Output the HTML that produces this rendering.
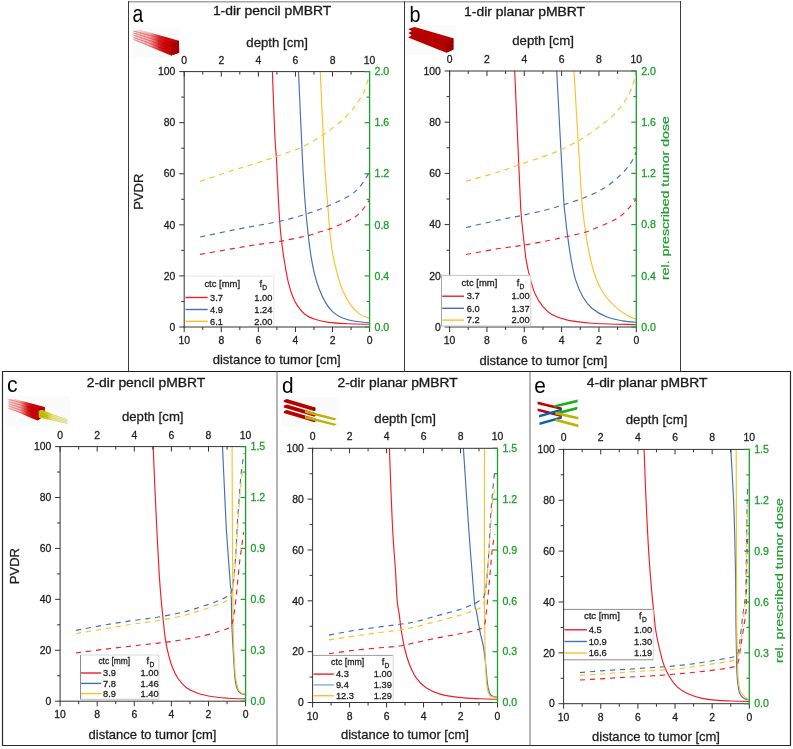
<!DOCTYPE html>
<html><head><meta charset="utf-8"><title>pMBRT</title><style>html,body{margin:0;padding:0;background:#fff;}svg{display:block;will-change:transform;}</style></head><body>
<svg width="793" height="749" viewBox="0 0 793 749" font-family="&quot;Liberation Sans&quot;, sans-serif">
<rect width="793" height="749" fill="#fff"/>
<line x1="128.5" y1="1.7" x2="680.5" y2="1.7" stroke="#a4a4a4" stroke-width="1.4" />
<line x1="128.5" y1="1" x2="128.5" y2="371.5" stroke="#3a3a3a" stroke-width="1" />
<line x1="680.5" y1="1" x2="680.5" y2="371.5" stroke="#3a3a3a" stroke-width="1" />
<line x1="404.5" y1="1.5" x2="404.5" y2="371.5" stroke="#3a3a3a" stroke-width="1" />
<line x1="2.5" y1="371.5" x2="790.5" y2="371.5" stroke="#1e1e1e" stroke-width="1.2" />
<line x1="2.5" y1="371" x2="2.5" y2="745.5" stroke="#2a2a2a" stroke-width="1.2" />
<line x1="790.5" y1="371" x2="790.5" y2="745.5" stroke="#2a2a2a" stroke-width="1.2" />
<line x1="2" y1="745.5" x2="791" y2="745.5" stroke="#2a2a2a" stroke-width="1.2" />
<line x1="277" y1="371.5" x2="277" y2="745.5" stroke="#6a6a6a" stroke-width="1" />
<line x1="530" y1="371.5" x2="530" y2="745.5" stroke="#6a6a6a" stroke-width="1" />
<defs><linearGradient id="ga" x1="133" y1="0" x2="166" y2="0" gradientUnits="userSpaceOnUse"><stop offset="0" stop-color="#d40000" stop-opacity="0.08"/><stop offset="0.5" stop-color="#d40000" stop-opacity="0.3"/><stop offset="0.8" stop-color="#d00000" stop-opacity="0.85"/><stop offset="1" stop-color="#cc0000" stop-opacity="1"/></linearGradient><linearGradient id="gc" x1="8" y1="0" x2="32" y2="0" gradientUnits="userSpaceOnUse"><stop offset="0" stop-color="#d40000" stop-opacity="0.08"/><stop offset="0.5" stop-color="#d40000" stop-opacity="0.3"/><stop offset="0.8" stop-color="#d00000" stop-opacity="0.85"/><stop offset="1" stop-color="#c80000" stop-opacity="1"/></linearGradient><linearGradient id="gcy" x1="38" y1="0" x2="68" y2="0" gradientUnits="userSpaceOnUse"><stop offset="0" stop-color="#c8c400" stop-opacity="1"/><stop offset="0.3" stop-color="#c8c400" stop-opacity="0.9"/><stop offset="0.5" stop-color="#c8c400" stop-opacity="0.3"/><stop offset="1" stop-color="#c8c400" stop-opacity="0.08"/></linearGradient></defs>
<rect x="132" y="28" width="49" height="29" fill="#fbfbfb"/>
<rect x="406" y="25" width="50" height="30" fill="#fbfbfb"/>
<rect x="6" y="396" width="64" height="30" fill="#fbfbfb"/>
<rect x="282" y="397" width="57" height="30" fill="#fbfbfb"/>
<rect x="535" y="398" width="46" height="30" fill="#fbfbfb"/>
<polygon points="133.2,31.3 139.2,29.4 178.9,40.8 179.2,52.8 171,55.6 133.2,39.8" fill="url(#ga)" />
<line x1="133.5" y1="31" x2="172" y2="41.2" stroke="#d81818" stroke-width="0.6" opacity="0.75"/>
<line x1="133.5" y1="33.1" x2="172" y2="44.7" stroke="#d81818" stroke-width="0.6" opacity="0.75"/>
<line x1="133.5" y1="35.2" x2="172" y2="48.2" stroke="#d81818" stroke-width="0.6" opacity="0.75"/>
<line x1="133.5" y1="37.3" x2="172" y2="51.7" stroke="#d81818" stroke-width="0.6" opacity="0.75"/>
<line x1="133.5" y1="39.4" x2="172" y2="55.2" stroke="#d81818" stroke-width="0.6" opacity="0.75"/>
<line x1="136" y1="31.28" x2="137.5" y2="40.76" stroke="#e03030" stroke-width="0.4" opacity="0.35"/>
<line x1="140.2" y1="32.37" x2="141.7" y2="42.52" stroke="#e03030" stroke-width="0.4" opacity="0.35"/>
<line x1="144.4" y1="33.46" x2="145.9" y2="44.29" stroke="#e03030" stroke-width="0.4" opacity="0.35"/>
<line x1="148.6" y1="34.56" x2="150.1" y2="46.05" stroke="#e03030" stroke-width="0.4" opacity="0.35"/>
<line x1="152.8" y1="35.65" x2="154.3" y2="47.82" stroke="#e03030" stroke-width="0.4" opacity="0.35"/>
<line x1="157" y1="36.74" x2="158.5" y2="49.58" stroke="#e03030" stroke-width="0.4" opacity="0.35"/>
<polygon points="171,42.6 178.9,40.8 179.2,52.8 171,55.6" fill="#a80000" />
<line x1="158" y1="40.7" x2="171" y2="45.85" stroke="#a00000" stroke-width="0.7" opacity="0.6"/>
<line x1="158" y1="43.6" x2="171" y2="49.1" stroke="#a00000" stroke-width="0.7" opacity="0.6"/>
<line x1="158" y1="46.5" x2="171" y2="52.35" stroke="#a00000" stroke-width="0.7" opacity="0.6"/>
<polygon points="408.2,29.1 414.6,27.1 453.4,38.2 453.4,49.5 446.4,52.7 408.2,37.4 411.8,35.1 408.2,33.1 411.8,31.2" fill="#b80000" />
<polygon points="446.4,40.4 453.4,38.2 453.4,49.5 446.4,52.7" fill="#9c0000" />
<line x1="446.4" y1="44.5" x2="453.4" y2="41.97" stroke="#7a0000" stroke-width="0.7" opacity="0.7"/>
<line x1="446.4" y1="48.6" x2="453.4" y2="45.74" stroke="#7a0000" stroke-width="0.7" opacity="0.7"/>
<line x1="411" y1="32.1" x2="446.4" y2="44.5" stroke="#9a0000" stroke-width="0.8" opacity="0.6"/>
<line x1="411" y1="34.7" x2="446.4" y2="48.6" stroke="#9a0000" stroke-width="0.8" opacity="0.6"/>
<polygon points="8.3,399.6 12,398.3 44.6,406.9 44.6,415.5 37.4,420.4 8.3,408.6" fill="url(#gc)" />
<line x1="8.5" y1="399.5" x2="40" y2="407.5" stroke="#d81818" stroke-width="0.55" opacity="0.75"/>
<line x1="8.5" y1="401.7" x2="40" y2="410.5" stroke="#d81818" stroke-width="0.55" opacity="0.75"/>
<line x1="8.5" y1="403.9" x2="40" y2="413.5" stroke="#d81818" stroke-width="0.55" opacity="0.75"/>
<line x1="8.5" y1="406.1" x2="40" y2="416.5" stroke="#d81818" stroke-width="0.55" opacity="0.75"/>
<line x1="8.5" y1="408.3" x2="40" y2="419.5" stroke="#d81818" stroke-width="0.55" opacity="0.75"/>
<polygon points="37.5,408.8 44.6,406.9 44.6,415.5 37.4,420.4" fill="#a80000" />
<line x1="27" y1="406.5" x2="37.5" y2="410.5" stroke="#9a0000" stroke-width="0.8" opacity="0.6"/>
<line x1="27" y1="409.8" x2="37.5" y2="414.4" stroke="#9a0000" stroke-width="0.8" opacity="0.6"/>
<polygon points="38.7,410.7 42,409.8 67.6,419.8 67,423.8 38.7,417.4" fill="url(#gcy)" />
<line x1="40" y1="410.6" x2="67.5" y2="419.5" stroke="#c9c21c" stroke-width="0.55" opacity="0.85"/>
<line x1="40" y1="412.7" x2="67.5" y2="420.9" stroke="#c9c21c" stroke-width="0.55" opacity="0.85"/>
<line x1="40" y1="414.8" x2="67.5" y2="422.3" stroke="#c9c21c" stroke-width="0.55" opacity="0.85"/>
<line x1="40" y1="416.9" x2="67.5" y2="423.7" stroke="#c9c21c" stroke-width="0.55" opacity="0.85"/>
<line x1="39" y1="413" x2="48" y2="415.7" stroke="#a8a200" stroke-width="0.7" opacity="0.7"/>
<line x1="39" y1="415.2" x2="48" y2="417.6" stroke="#a8a200" stroke-width="0.7" opacity="0.7"/>
<polygon points="283.8,400.3 286.8,399.1 315.3,407.6 315.3,410.5 313.8,411 283.8,402" fill="#b80000" />
<polygon points="313.6,408.1 315.3,407.6 315.3,410.5 313.8,411" fill="#900000" />
<polygon points="283.8,405.8 286.8,404.6 315.3,413.1 315.3,416 313.8,416.5 283.8,407.5" fill="#b80000" />
<polygon points="313.6,413.6 315.3,413.1 315.3,416 313.8,416.5" fill="#900000" />
<polygon points="283.8,411.3 286.8,410.1 315.3,418.6 315.3,421.5 313.8,422 283.8,413" fill="#b80000" />
<polygon points="313.6,419.1 315.3,418.6 315.3,421.5 313.8,422" fill="#900000" />
<polygon points="305,410.2 336.5,418.4 334.7,420.2 305,412.9" fill="#bbb300" />
<polygon points="305,415.7 336.5,423.9 334.7,425.7 305,418.4" fill="#bbb300" />
<polygon points="537.6,401.6 561.8,407.4 561.8,410 537.6,404.2" fill="#c00000" />
<polygon points="537.6,408.4 561.8,414.6 561.8,417.2 537.6,411" fill="#c00000" />
<polygon points="539.1,415 561.8,408.4 561.8,411 539.1,417.6" fill="#0f5ea8" />
<polygon points="539.5,422.4 561.8,416.2 561.8,418.8 539.5,425" fill="#0f5ea8" />
<polygon points="554.2,405.2 577.6,399.6 577.6,402.2 554.2,407.8" fill="#1aae1a" />
<polygon points="555,412.6 577.3,406.8 577.3,409.4 555,415.2" fill="#1aae1a" />
<polygon points="555.8,411.8 578.3,417 578.3,419.6 555.8,414.4" fill="#bdb400" />
<polygon points="555.8,418.6 578.3,424.6 578.3,427.2 555.8,421.2" fill="#bdb400" />
<text x="212.9" y="15.2" font-size="12" fill="#1a1a1a" textLength="118.4" lengthAdjust="spacingAndGlyphs" stroke="#1a1a1a" stroke-width="0.3">1-dir pencil pMBRT</text>
<text x="464.1" y="15.5" font-size="12" fill="#1a1a1a" textLength="121" lengthAdjust="spacingAndGlyphs" stroke="#1a1a1a" stroke-width="0.3">1-dir planar pMBRT</text>
<text x="86.8" y="386.5" font-size="12" fill="#1a1a1a" textLength="118.4" lengthAdjust="spacingAndGlyphs" stroke="#1a1a1a" stroke-width="0.3">2-dir pencil pMBRT</text>
<text x="337.6" y="386.5" font-size="12" fill="#1a1a1a" textLength="120" lengthAdjust="spacingAndGlyphs" stroke="#1a1a1a" stroke-width="0.3">2-dir planar pMBRT</text>
<text x="586.8" y="386.5" font-size="12" fill="#1a1a1a" textLength="120.8" lengthAdjust="spacingAndGlyphs" stroke="#1a1a1a" stroke-width="0.3">4-dir planar pMBRT</text>
<text x="132.5" y="22.2" font-size="23.5" fill="#000" textLength="10.7" lengthAdjust="spacingAndGlyphs" stroke="none">a</text>
<text x="409.4" y="22.3" font-size="22" fill="#000" textLength="11" lengthAdjust="spacingAndGlyphs" stroke="none">b</text>
<text x="6.9" y="392.4" font-size="22" fill="#000" textLength="10.6" lengthAdjust="spacingAndGlyphs" stroke="none">c</text>
<text x="281.9" y="392.5" font-size="22" fill="#000" textLength="11.6" lengthAdjust="spacingAndGlyphs" stroke="none">d</text>
<text x="534.3" y="392.5" font-size="22" fill="#000" textLength="11.6" lengthAdjust="spacingAndGlyphs" stroke="none">e</text>
<path d="M272.4 71.6 C272.8 82.17 274.12 120.27 274.8 135 C275.48 149.73 275.9 149.17 276.5 160 C277.1 170.83 277.73 188.15 278.4 200 C279.07 211.85 279.67 221.97 280.5 231.1 C281.33 240.23 282.5 248.3 283.4 254.8 C284.3 261.3 285.07 265.45 285.9 270.1 C286.73 274.75 287.35 278.5 288.4 282.7 C289.45 286.9 290.73 291.52 292.2 295.3 C293.67 299.08 295.1 302.25 297.2 305.4 C299.3 308.55 301.85 311.88 304.8 314.2 C307.75 316.52 310.92 317.93 314.9 319.3 C318.88 320.67 323.23 321.67 328.7 322.4 C334.17 323.13 340.88 323.38 347.7 323.7 C354.52 324.02 365.95 324.2 369.6 324.3" fill="none" stroke="#ee1f26" stroke-width="1.15" stroke-linejoin="round"/>
<path d="M298.5 71.6 C299.17 86.33 301.43 138.6 302.5 160 C303.57 181.4 304.02 188.15 304.9 200 C305.78 211.85 306.82 221.97 307.8 231.1 C308.78 240.23 309.73 247.88 310.8 254.8 C311.87 261.72 312.88 267.12 314.2 272.6 C315.52 278.08 316.9 282.87 318.7 287.7 C320.5 292.53 322.7 297.6 325 301.6 C327.3 305.6 329.57 308.97 332.5 311.7 C335.43 314.43 338.82 316.42 342.6 318 C346.38 319.58 350.7 320.42 355.2 321.2 C359.7 321.98 367.2 322.45 369.6 322.7" fill="none" stroke="#4470b0" stroke-width="1.15" stroke-linejoin="round"/>
<path d="M320.3 71.6 C320.98 86.33 323.22 138.6 324.4 160 C325.58 181.4 326.5 188.15 327.4 200 C328.3 211.85 328.88 221.97 329.8 231.1 C330.72 240.23 331.6 247.47 332.9 254.8 C334.2 262.13 335.98 269.18 337.6 275.1 C339.22 281.02 340.5 285.47 342.6 290.3 C344.7 295.13 347.47 300.22 350.2 304.1 C352.93 307.98 355.77 311.18 359 313.6 C362.23 316.02 367.83 317.77 369.6 318.6" fill="none" stroke="#f9c12a" stroke-width="1.15" stroke-linejoin="round"/>
<path d="M200.1 254.4 C205.32 253.48 222.23 250.48 231.4 248.9 C240.57 247.32 246.8 246.2 255.1 244.9 C263.4 243.6 272.3 242.68 281.2 241.1 C290.1 239.52 302.5 236.82 308.5 235.4 C314.5 233.98 313.62 233.7 317.2 232.6 C320.78 231.5 325.2 230.58 330 228.8 C334.8 227.02 341.73 223.93 346 221.9 C350.27 219.87 352.75 218.73 355.6 216.6 C358.45 214.47 360.87 211.77 363.1 209.1 C365.33 206.43 368.02 202.02 369 200.6" fill="none" stroke="#ee1f26" stroke-width="1.15" stroke-linejoin="round" stroke-dasharray="5.2 4.8"/>
<path d="M200.1 237 C205.32 235.9 222.23 232.25 231.4 230.4 C240.57 228.55 247 227.43 255.1 225.9 C263.2 224.37 271.5 223.17 280 221.2 C288.5 219.23 298.2 216.6 306.1 214.1 C314 211.6 320.48 209.1 327.4 206.2 C334.32 203.3 342.27 199.85 347.6 196.7 C352.93 193.55 355.9 191.15 359.4 187.3 C362.9 183.45 367.07 175.88 368.6 173.6" fill="none" stroke="#4470b0" stroke-width="1.15" stroke-linejoin="round" stroke-dasharray="5.2 4.8"/>
<path d="M200.1 181.4 C205.32 179.63 222.23 173.77 231.4 170.8 C240.57 167.83 247.58 165.98 255.1 163.6 C262.62 161.22 268.98 159.13 276.5 156.5 C284.02 153.87 293.95 150.45 300.2 147.8 C306.45 145.15 310.28 142.7 314 140.6 C317.72 138.5 319.83 136.98 322.5 135.2 C325.17 133.42 327.33 131.85 330 129.9 C332.67 127.95 335.83 125.72 338.5 123.5 C341.17 121.28 343.68 118.92 346 116.6 C348.32 114.28 350.43 112 352.4 109.6 C354.37 107.2 356.02 104.87 357.8 102.2 C359.58 99.53 361.6 96.63 363.1 93.6 C364.6 90.57 365.73 87.33 366.8 84 C367.87 80.67 369.05 75.33 369.5 73.6" fill="none" stroke="#f9c12a" stroke-width="1.15" stroke-linejoin="round" stroke-dasharray="5.2 4.8"/>
<path d="M514.7 71 C515.57 90.83 518.83 166.22 519.9 190 C520.97 213.78 520.5 205.8 521.1 213.7 C521.7 221.6 522.63 229.5 523.5 237.4 C524.37 245.3 525.12 253.98 526.3 261.1 C527.48 268.22 529.1 274.57 530.6 280.1 C532.1 285.63 533.32 289.95 535.3 294.3 C537.28 298.65 539.73 302.83 542.5 306.2 C545.27 309.57 547.57 312.13 551.9 314.5 C556.23 316.87 561.78 318.95 568.5 320.4 C575.22 321.85 580.9 322.48 592.2 323.2 C603.5 323.92 628.95 324.45 636.3 324.7" fill="none" stroke="#ee1f26" stroke-width="1.15" stroke-linejoin="round"/>
<path d="M556.7 71 C557.77 90.83 561.72 166.22 563.1 190 C564.48 213.78 564.22 205.8 565 213.7 C565.78 221.6 566.73 229.5 567.8 237.4 C568.87 245.3 570.08 253.98 571.4 261.1 C572.72 268.22 573.8 274.17 575.7 280.1 C577.6 286.03 580.05 291.97 582.8 296.7 C585.55 301.43 588.25 305.15 592.2 308.5 C596.15 311.85 601.35 314.73 606.5 316.8 C611.65 318.87 618.13 319.98 623.1 320.9 C628.07 321.82 634.1 322.07 636.3 322.3" fill="none" stroke="#4470b0" stroke-width="1.15" stroke-linejoin="round"/>
<path d="M574 71 C575.18 90.83 579.57 166.22 581.1 190 C582.63 213.78 582.45 206.58 583.2 213.7 C583.95 220.82 584.48 225.58 585.6 232.7 C586.72 239.82 588.2 248.9 589.9 256.4 C591.6 263.9 593.43 271.38 595.8 277.7 C598.17 284.02 600.73 289.35 604.1 294.3 C607.47 299.25 612.05 303.83 616 307.4 C619.95 310.97 624.42 313.73 627.8 315.7 C631.18 317.67 634.88 318.62 636.3 319.2" fill="none" stroke="#f9c12a" stroke-width="1.15" stroke-linejoin="round"/>
<path d="M466.1 254.5 C471.32 253.55 487.63 250.38 497.4 248.8 C507.17 247.22 516 246.42 524.7 245 C533.4 243.58 542.3 241.77 549.6 240.3 C556.9 238.83 562.58 237.55 568.5 236.2 C574.42 234.85 579.57 233.97 585.1 232.2 C590.63 230.43 595.77 228.28 601.7 225.6 C607.63 222.92 614.97 220.45 620.7 216.1 C626.43 211.75 633.53 202.27 636.1 199.5" fill="none" stroke="#ee1f26" stroke-width="1.15" stroke-linejoin="round" stroke-dasharray="5.2 4.8"/>
<path d="M466.1 227.5 C471.32 226.3 488.23 222.28 497.4 220.3 C506.57 218.32 513.2 217.28 521.1 215.6 C529 213.92 537.68 212.02 544.8 210.2 C551.92 208.38 557.47 206.68 563.8 204.7 C570.13 202.72 576.48 200.83 582.8 198.3 C589.12 195.77 595.78 193.03 601.7 189.5 C607.62 185.97 613.55 181.35 618.3 177.1 C623.05 172.85 627.23 168.15 630.2 164 C633.17 159.85 635.12 154.17 636.1 152.2" fill="none" stroke="#4470b0" stroke-width="1.15" stroke-linejoin="round" stroke-dasharray="5.2 4.8"/>
<path d="M466.1 181.3 C471.32 179.8 488.82 174.98 497.4 172.3 C505.98 169.62 510.08 167.77 517.6 165.2 C525.12 162.63 535.2 159.52 542.5 156.9 C549.8 154.28 555.15 152.32 561.4 149.5 C567.65 146.68 575.12 142.73 580 140 C584.88 137.27 586.78 135.85 590.7 133.1 C594.62 130.35 599.95 126.25 603.5 123.5 C607.05 120.75 609.52 118.92 612 116.6 C614.48 114.28 616.27 112.18 618.4 109.6 C620.53 107.02 622.83 104.12 624.8 101.1 C626.77 98.08 628.77 94.53 630.2 91.5 C631.63 88.47 632.45 86.07 633.4 82.9 C634.35 79.73 635.48 74.23 635.9 72.5" fill="none" stroke="#f9c12a" stroke-width="1.15" stroke-linejoin="round" stroke-dasharray="5.2 4.8"/>
<path d="M153.2 446.6 C153.45 452.85 154.1 470.5 154.7 484.1 C155.3 497.7 156.07 513.48 156.8 528.2 C157.53 542.92 158.37 560.43 159.1 572.4 C159.83 584.37 160.5 591.9 161.2 600 C161.9 608.1 162.6 614.45 163.3 621 C164 627.55 164.58 633.92 165.4 639.3 C166.22 644.68 167.03 648.63 168.2 653.3 C169.37 657.97 170.77 663.1 172.4 667.3 C174.03 671.5 175.65 675.1 178 678.5 C180.35 681.9 183.22 685.23 186.5 687.7 C189.78 690.17 193.27 691.78 197.7 693.3 C202.13 694.82 207.97 695.98 213.1 696.8 C218.23 697.62 223.08 697.85 228.5 698.2 C233.92 698.55 242.75 698.78 245.6 698.9" fill="none" stroke="#ee1f26" stroke-width="1.15" stroke-linejoin="round"/>
<path d="M222.5 446.6 C222.82 453.52 223.8 475.03 224.4 488.1 C225 501.17 225.47 513.83 226.1 525 C226.73 536.17 227.48 545.07 228.2 555.1 C228.92 565.13 229.9 579.28 230.4 585.2 C230.9 591.12 231 585.63 231.2 590.6 C231.4 595.57 231.47 608.77 231.6 615 C231.73 621.23 231.68 621.15 232 628 C232.32 634.85 233.02 647.92 233.5 656.1 C233.98 664.28 234.32 671.72 234.9 677.1 C235.48 682.48 236.07 685.7 237 688.4 C237.93 691.1 239.07 692.33 240.5 693.3 C241.93 694.27 244.75 694.05 245.6 694.2" fill="none" stroke="#4470b0" stroke-width="1.15" stroke-linejoin="round"/>
<path d="M232.1 446.6 C232.15 459.67 232.25 496.93 232.4 525 C232.55 553.07 232.82 595.5 233 615 C233.18 634.5 233.18 632.82 233.5 642 C233.82 651.18 234.43 663.55 234.9 670.1 C235.37 676.65 235.72 678.02 236.3 681.3 C236.88 684.58 237.47 687.8 238.4 689.8 C239.33 691.8 240.7 692.65 241.9 693.3 C243.1 693.95 244.98 693.63 245.6 693.7" fill="none" stroke="#f9c12a" stroke-width="1.15" stroke-linejoin="round"/>
<path d="M76.1 652.9 C81.32 652.23 97.05 650.17 107.4 648.9 C117.75 647.63 128.3 646.43 138.2 645.3 C148.1 644.17 158.98 643.1 166.8 642.1 C174.62 641.1 179.02 640.35 185.1 639.3 C191.18 638.25 197.47 637.17 203.3 635.8 C209.13 634.43 215.9 632.4 220.1 631.1 C224.3 629.8 226.52 629.22 228.5 628 C230.48 626.78 231.08 626.13 232 623.8 C232.92 621.47 233.5 616.8 234 614 C234.5 611.2 234.6 610.2 235 607 C235.4 603.8 235.92 599.43 236.4 594.8 C236.88 590.17 237.35 584.82 237.9 579.2 C238.45 573.58 239.07 566.52 239.7 561.1 C240.33 555.68 241.05 551.52 241.7 546.7 C242.35 541.88 243.28 534.62 243.6 532.2" fill="none" stroke="#ee1f26" stroke-width="1.15" stroke-linejoin="round" stroke-dasharray="5.2 4.8"/>
<path d="M76.1 630.4 C81.32 629.42 97.83 626.15 107.4 624.5 C116.97 622.85 125.47 621.67 133.5 620.5 C141.53 619.33 148.18 618.7 155.6 617.5 C163.02 616.3 171.22 614.82 178 613.3 C184.78 611.78 190.13 610.28 196.3 608.4 C202.47 606.52 210.08 603.87 215 602 C219.92 600.13 223.1 598.8 225.8 597.2 C228.5 595.6 229.95 594.8 231.2 592.4 C232.45 590 232.73 586.42 233.3 582.8 C233.87 579.18 234.13 576.32 234.6 570.7 C235.07 565.08 235.65 556.85 236.1 549.1 C236.55 541.35 236.9 531.15 237.3 524.2 C237.7 517.25 238.1 513.02 238.5 507.4 C238.9 501.78 239.3 495.72 239.7 490.5 C240.1 485.28 240.45 480.5 240.9 476.1 C241.35 471.7 241.9 467.92 242.4 464.1 C242.9 460.28 243.65 455.02 243.9 453.2" fill="none" stroke="#4470b0" stroke-width="1.15" stroke-linejoin="round" stroke-dasharray="5.2 4.8"/>
<path d="M76.1 633.5 C81.32 632.63 97.83 629.88 107.4 628.3 C116.97 626.72 125.47 625.22 133.5 624 C141.53 622.78 148.18 622.2 155.6 621 C163.02 619.8 171.22 618.32 178 616.8 C184.78 615.28 190.13 613.77 196.3 611.9 C202.47 610.03 210.28 607.25 215 605.6 C219.72 603.95 222 603.4 224.6 602 C227.2 600.6 229.23 599.4 230.6 597.2 C231.97 595 232.18 592.42 232.8 588.8 C233.42 585.18 233.82 580.52 234.3 575.5 C234.78 570.48 235.23 565.12 235.7 558.7 C236.17 552.28 236.77 542.35 237.1 537 C237.43 531.65 237.42 531.13 237.7 526.6 C237.98 522.07 238.42 515.4 238.8 509.8 C239.18 504.2 239.55 498.22 240 493 C240.45 487.78 241 482.92 241.5 478.5 C242 474.08 242.75 468.5 243 466.5" fill="none" stroke="#f9c12a" stroke-width="1.15" stroke-linejoin="round" stroke-dasharray="5.2 4.8"/>
<path d="M389.4 448.3 C389.9 461.08 391.37 504.32 392.4 525 C393.43 545.68 394.82 559.9 395.6 572.4 C396.38 584.9 396.5 593.03 397.1 600 C397.7 606.97 398.48 609.02 399.2 614.2 C399.92 619.38 400.45 625.22 401.4 631.1 C402.35 636.98 403.6 644.07 404.9 649.5 C406.2 654.93 407.32 658.98 409.2 663.7 C411.08 668.42 413.38 673.8 416.2 677.8 C419.02 681.8 422.08 684.98 426.1 687.7 C430.12 690.42 434.87 692.48 440.3 694.1 C445.73 695.72 452.1 696.62 458.7 697.4 C465.3 698.18 473.43 698.48 479.9 698.8 C486.37 699.12 494.57 699.22 497.5 699.3" fill="none" stroke="#ee1f26" stroke-width="1.15" stroke-linejoin="round"/>
<path d="M463.4 448.3 C464.32 462.03 467.08 505.42 468.9 530.7 C470.72 555.98 473.05 586.57 474.3 600 C475.55 613.43 475.47 606.12 476.4 611.3 C477.33 616.48 478.73 625.2 479.9 631.1 C481.07 637 482.45 641.27 483.4 646.7 C484.35 652.13 485 658.28 485.6 663.7 C486.2 669.12 486.53 674.97 487 679.2 C487.47 683.43 487.7 686.38 488.4 689.1 C489.1 691.82 489.68 694.12 491.2 695.5 C492.72 696.88 496.45 697.08 497.5 697.4" fill="none" stroke="#4470b0" stroke-width="1.15" stroke-linejoin="round"/>
<path d="M484.5 448.3 C484.48 473.58 484.37 570 484.4 600 C484.43 630 484.55 618.87 484.7 628.3 C484.85 637.73 485.03 648.12 485.3 656.6 C485.57 665.08 485.9 673.53 486.3 679.2 C486.7 684.87 487 687.77 487.7 690.6 C488.4 693.43 488.87 695.07 490.5 696.2 C492.13 697.33 496.33 697.2 497.5 697.4" fill="none" stroke="#f9c12a" stroke-width="1.15" stroke-linejoin="round"/>
<path d="M329 653.8 C333.25 653.2 346.02 651.2 354.5 650.2 C362.98 649.2 372.37 648.5 379.9 647.8 C387.43 647.1 393.65 646.88 399.7 646 C405.75 645.12 409.9 643.85 416.2 642.5 C422.5 641.15 430.42 639.32 437.5 637.9 C444.58 636.48 452.1 635.32 458.7 634 C465.3 632.68 472.87 631.38 477.1 630 C481.33 628.62 482.58 628.45 484.1 625.7 C485.62 622.95 485.65 617.45 486.2 613.5 C486.75 609.55 487 605.92 487.4 602 C487.8 598.08 488.15 594.83 488.6 590 C489.05 585.17 489.45 580.12 490.1 573 C490.75 565.88 491.7 553.73 492.5 547.3 C493.3 540.87 494.5 536.55 494.9 534.4" fill="none" stroke="#ee1f26" stroke-width="1.15" stroke-linejoin="round" stroke-dasharray="5.2 4.8"/>
<path d="M329 635.1 C333.25 634.32 346.02 631.77 354.5 630.4 C362.98 629.03 372.37 627.92 379.9 626.9 C387.43 625.88 393.65 625.18 399.7 624.3 C405.75 623.42 409.9 623.05 416.2 621.6 C422.5 620.15 430.42 617.55 437.5 615.6 C444.58 613.65 452.7 611.8 458.7 609.9 C464.7 608 470.12 605.68 473.5 604.2 C476.88 602.72 477.45 601.92 479 601 C480.55 600.08 481.68 600.7 482.8 598.7 C483.92 596.7 484.88 594.08 485.7 589 C486.52 583.92 487.1 575.7 487.7 568.2 C488.3 560.7 488.87 551.7 489.3 544 C489.73 536.3 489.97 528.22 490.3 522 C490.63 515.78 490.9 511.92 491.3 506.7 C491.7 501.48 492.1 496.98 492.7 490.7 C493.3 484.42 494.53 472.62 494.9 469" fill="none" stroke="#4470b0" stroke-width="1.15" stroke-linejoin="round" stroke-dasharray="5.2 4.8"/>
<path d="M329 639.9 C333.25 639.27 346.02 637.33 354.5 636.1 C362.98 634.87 372.37 633.52 379.9 632.5 C387.43 631.48 393.65 630.97 399.7 630 C405.75 629.03 409.9 628.17 416.2 626.7 C422.5 625.23 430.42 623.05 437.5 621.2 C444.58 619.35 452.33 617.48 458.7 615.6 C465.07 613.72 471.68 611.65 475.7 609.9 C479.72 608.15 481.22 607.52 482.8 605.1 C484.38 602.68 484.52 600.22 485.2 595.4 C485.88 590.58 486.28 583.42 486.9 576.2 C487.52 568.98 488.27 560.4 488.9 552.1 C489.53 543.8 490.07 534.87 490.7 526.4 C491.33 517.93 491.93 508.03 492.7 501.3 C493.47 494.57 494.87 488.55 495.3 486" fill="none" stroke="#f9c12a" stroke-width="1.15" stroke-linejoin="round" stroke-dasharray="5.2 4.8"/>
<path d="M644.1 449.4 C644.4 457.33 645.17 480.42 645.9 497 C646.63 513.58 647.58 533.75 648.5 548.9 C649.42 564.05 650.53 577.52 651.4 587.9 C652.27 598.28 652.98 604.18 653.7 611.2 C654.42 618.22 654.8 624.03 655.7 630 C656.6 635.97 657.78 641.32 659.1 647 C660.42 652.68 661.9 659.18 663.6 664.1 C665.3 669.02 667.03 672.72 669.3 676.5 C671.57 680.28 674.17 683.95 677.2 686.8 C680.23 689.65 683.52 691.72 687.5 693.6 C691.48 695.48 696 696.97 701.1 698.1 C706.2 699.23 713.08 699.92 718.1 700.4 C723.12 700.88 726 700.82 731.2 701 C736.4 701.18 746.28 701.42 749.3 701.5" fill="none" stroke="#ee1f26" stroke-width="1.15" stroke-linejoin="round"/>
<path d="M730.8 449.4 C731.1 454.68 732.1 471.8 732.6 481.1 C733.1 490.4 733.45 496.22 733.8 505.2 C734.15 514.18 734.4 522.85 734.7 535 C735 547.15 735.4 563.93 735.6 578.1 C735.8 592.27 735.77 608.27 735.9 620 C736.03 631.73 736.22 639.48 736.4 648.5 C736.58 657.52 736.68 667.7 737 674.1 C737.32 680.5 737.77 683.48 738.3 686.9 C738.83 690.32 739.23 692.67 740.2 694.6 C741.17 696.53 742.58 697.63 744.1 698.5 C745.62 699.37 748.43 699.58 749.3 699.8" fill="none" stroke="#4470b0" stroke-width="1.15" stroke-linejoin="round"/>
<path d="M736.2 449.4 C736.25 470.33 736.43 548.23 736.5 575 C736.57 601.77 736.47 596.68 736.6 610 C736.73 623.32 737.02 643.15 737.3 654.9 C737.58 666.65 737.82 674.52 738.3 680.5 C738.78 686.48 739.45 688.45 740.2 690.8 C740.95 693.15 741.95 693.53 742.8 694.6 C743.65 695.67 744.22 696.2 745.3 697.2 C746.38 698.2 748.63 700.03 749.3 700.6" fill="none" stroke="#f9c12a" stroke-width="1.15" stroke-linejoin="round"/>
<path d="M580 680 C584.02 679.77 596.3 679.07 604.1 678.6 C611.9 678.13 619.15 677.63 626.8 677.2 C634.45 676.77 642.35 676.48 650 676 C657.65 675.52 665.13 674.93 672.7 674.3 C680.27 673.67 687.83 673 695.4 672.2 C702.97 671.4 712.13 670.3 718.1 669.5 C724.07 668.7 727.95 668.35 731.2 667.4 C734.45 666.45 736 667.38 737.6 663.8 C739.2 660.22 739.83 651.67 740.8 645.9 C741.77 640.13 742.53 634.97 743.4 629.2 C744.27 623.43 745.48 617.83 746 611.3 C746.52 604.77 746.37 597.55 746.5 590 C746.63 582.45 746.68 573.5 746.8 566 C746.92 558.5 746.95 550.43 747.2 545 C747.45 539.57 748.12 535.33 748.3 533.4" fill="none" stroke="#ee1f26" stroke-width="1.15" stroke-linejoin="round" stroke-dasharray="5.2 4.8"/>
<path d="M580 672.6 C584.02 672.27 596.3 671.15 604.1 670.6 C611.9 670.05 619.15 669.78 626.8 669.3 C634.45 668.82 642.35 668.23 650 667.7 C657.65 667.17 665.13 666.8 672.7 666.1 C680.27 665.4 687.83 664.57 695.4 663.5 C702.97 662.43 711.92 660.75 718.1 659.7 C724.28 658.65 729.25 658.12 732.5 657.2 C735.75 656.28 736.42 656.52 737.6 654.2 C738.78 651.88 738.95 647.88 739.6 643.3 C740.25 638.72 740.9 631.92 741.5 626.7 C742.1 621.48 742.62 616.45 743.2 612 C743.78 607.55 744.57 603.63 745 600 C745.43 596.37 745.6 595.85 745.8 590.2 C746 584.55 746.05 575.33 746.2 566.1 C746.35 556.87 746.55 544.95 746.7 534.8 C746.85 524.65 746.98 512.15 747.1 505.2 C747.22 498.25 747.22 496.63 747.4 493.1 C747.58 489.57 748.07 485.52 748.2 484" fill="none" stroke="#4470b0" stroke-width="1.15" stroke-linejoin="round" stroke-dasharray="5.2 4.8"/>
<path d="M580 675.4 C584.02 675.12 596.3 674.25 604.1 673.7 C611.9 673.15 619.15 672.62 626.8 672.1 C634.45 671.58 642.35 671.08 650 670.6 C657.65 670.12 665.13 669.88 672.7 669.2 C680.27 668.52 687.83 667.52 695.4 666.5 C702.97 665.48 711.92 664.08 718.1 663.1 C724.28 662.12 729.25 661.65 732.5 660.6 C735.75 659.55 736.32 659.47 737.6 656.8 C738.88 654.13 739.45 649.2 740.2 644.6 C740.95 640 741.45 634.33 742.1 629.2 C742.75 624.07 743.53 618.67 744.1 613.8 C744.67 608.93 745.18 603.97 745.5 600 C745.82 596.03 745.85 595.67 746 590 C746.15 584.33 746.27 575.17 746.4 566 C746.53 556.83 746.65 542.73 746.8 535 C746.95 527.27 747.13 524.6 747.3 519.6 C747.47 514.6 747.72 507.43 747.8 505" fill="none" stroke="#f9c12a" stroke-width="1.15" stroke-linejoin="round" stroke-dasharray="5.2 4.8"/>
<rect x="184.2" y="276.2" width="89.6" height="50.8" fill="#fff"/>
<line x1="184.2" y1="276.2" x2="273.8" y2="276.2" stroke="#e6e6e6" stroke-width="1" />
<line x1="273.8" y1="276.2" x2="273.8" y2="327" stroke="#e6e6e6" stroke-width="1" />
<text x="204.4" y="287" font-size="9.3" fill="#1c1c1c" textLength="35.7" lengthAdjust="spacingAndGlyphs"  stroke="#1c1c1c" stroke-width="0.28">ctc [mm]</text>
<text x="259.4" y="287" font-size="9.3" text-anchor="start" fill="#1c1c1c"  stroke="#1c1c1c" stroke-width="0.28">f</text>
<text x="262.3" y="289.8" font-size="6.7" text-anchor="start" fill="#1c1c1c"  stroke="#1c1c1c" stroke-width="0.28">D</text>
<line x1="185.5" y1="297.5" x2="207.7" y2="297.5" stroke="#ee1f26" stroke-width="1.4" />
<text x="210" y="300.7" font-size="9.3" text-anchor="start" fill="#1c1c1c"  stroke="#1c1c1c" stroke-width="0.28">3.7</text>
<text x="272.4" y="300.7" font-size="9.3" text-anchor="end" fill="#1c1c1c"  stroke="#1c1c1c" stroke-width="0.28">1.00</text>
<line x1="185.5" y1="309.5" x2="207.7" y2="309.5" stroke="#4470b0" stroke-width="1.4" />
<text x="210" y="312.7" font-size="9.3" text-anchor="start" fill="#1c1c1c"  stroke="#1c1c1c" stroke-width="0.28">4.9</text>
<text x="272.4" y="312.7" font-size="9.3" text-anchor="end" fill="#1c1c1c"  stroke="#1c1c1c" stroke-width="0.28">1.24</text>
<line x1="185.5" y1="321.3" x2="207.7" y2="321.3" stroke="#f9c12a" stroke-width="1.4" />
<text x="210" y="324.5" font-size="9.3" text-anchor="start" fill="#1c1c1c"  stroke="#1c1c1c" stroke-width="0.28">6.1</text>
<text x="272.4" y="324.5" font-size="9.3" text-anchor="end" fill="#1c1c1c"  stroke="#1c1c1c" stroke-width="0.28">2.00</text>
<rect x="80.5" y="655" width="78.4" height="44.3" fill="#fff"/>
<line x1="80.5" y1="655" x2="158.9" y2="655" stroke="#dadada" stroke-width="1" />
<line x1="158.9" y1="655" x2="158.9" y2="699.3" stroke="#d4d4d4" stroke-width="1" />
<line x1="80.5" y1="699.3" x2="158.9" y2="699.3" stroke="#c4c4c4" stroke-width="1" />
<line x1="80.5" y1="655" x2="80.5" y2="699.3" stroke="#8c8c8c" stroke-width="1" />
<text x="98.4" y="663.9" font-size="9.3" fill="#1c1c1c" textLength="31.8" lengthAdjust="spacingAndGlyphs"  stroke="#1c1c1c" stroke-width="0.28">ctc [mm]</text>
<text x="146.6" y="663.9" font-size="9.3" text-anchor="start" fill="#1c1c1c"  stroke="#1c1c1c" stroke-width="0.28">f</text>
<text x="149.5" y="666.7" font-size="6.7" text-anchor="start" fill="#1c1c1c"  stroke="#1c1c1c" stroke-width="0.28">D</text>
<line x1="81" y1="673" x2="101.2" y2="673" stroke="#ee1f26" stroke-width="1.4" />
<text x="103" y="676.2" font-size="9.3" text-anchor="start" fill="#1c1c1c"  stroke="#1c1c1c" stroke-width="0.28">3.9</text>
<text x="158.6" y="676.2" font-size="9.3" text-anchor="end" fill="#1c1c1c"  stroke="#1c1c1c" stroke-width="0.28">1.00</text>
<line x1="81" y1="683.4" x2="101.2" y2="683.4" stroke="#4470b0" stroke-width="1.4" />
<text x="103" y="686.6" font-size="9.3" text-anchor="start" fill="#1c1c1c"  stroke="#1c1c1c" stroke-width="0.28">7.8</text>
<text x="158.6" y="686.6" font-size="9.3" text-anchor="end" fill="#1c1c1c"  stroke="#1c1c1c" stroke-width="0.28">1.46</text>
<line x1="81" y1="693.6" x2="101.2" y2="693.6" stroke="#f9c12a" stroke-width="1.4" />
<text x="103" y="696.8" font-size="9.3" text-anchor="start" fill="#1c1c1c"  stroke="#1c1c1c" stroke-width="0.28">8.9</text>
<text x="158.6" y="696.8" font-size="9.3" text-anchor="end" fill="#1c1c1c"  stroke="#1c1c1c" stroke-width="0.28">1.40</text>
<rect x="312.8" y="655.4" width="80.3" height="47.1" fill="#fff"/>
<line x1="312.8" y1="655.4" x2="393.1" y2="655.4" stroke="#9c9c9c" stroke-width="1" />
<line x1="393.1" y1="655.4" x2="393.1" y2="702.5" stroke="#d8d8d8" stroke-width="1" />
<text x="331.1" y="664.8" font-size="9.3" fill="#1c1c1c" textLength="33.2" lengthAdjust="spacingAndGlyphs"  stroke="#1c1c1c" stroke-width="0.28">ctc [mm]</text>
<text x="381.7" y="664.8" font-size="9.3" text-anchor="start" fill="#1c1c1c"  stroke="#1c1c1c" stroke-width="0.28">f</text>
<text x="384.6" y="667.6" font-size="6.7" text-anchor="start" fill="#1c1c1c"  stroke="#1c1c1c" stroke-width="0.28">D</text>
<line x1="313.6" y1="674.1" x2="333.8" y2="674.1" stroke="#ee1f26" stroke-width="1.4" />
<text x="335.9" y="677.3" font-size="9.3" text-anchor="start" fill="#1c1c1c"  stroke="#1c1c1c" stroke-width="0.28">4.3</text>
<text x="391.9" y="677.3" font-size="9.3" text-anchor="end" fill="#1c1c1c"  stroke="#1c1c1c" stroke-width="0.28">1.00</text>
<line x1="313.6" y1="684.9" x2="333.8" y2="684.9" stroke="#8fa9d4" stroke-width="1.4" />
<text x="335.9" y="688.1" font-size="9.3" text-anchor="start" fill="#1c1c1c"  stroke="#1c1c1c" stroke-width="0.28">9.4</text>
<text x="391.9" y="688.1" font-size="9.3" text-anchor="end" fill="#1c1c1c"  stroke="#1c1c1c" stroke-width="0.28">1.39</text>
<line x1="313.6" y1="695.7" x2="333.8" y2="695.7" stroke="#f9c12a" stroke-width="1.4" />
<text x="335.9" y="698.9" font-size="9.3" text-anchor="start" fill="#1c1c1c"  stroke="#1c1c1c" stroke-width="0.28">12.3</text>
<text x="391.9" y="698.9" font-size="9.3" text-anchor="end" fill="#1c1c1c"  stroke="#1c1c1c" stroke-width="0.28">1.29</text>
<rect x="563.6" y="609.4" width="89.6" height="50.4" fill="#fff"/>
<line x1="563.6" y1="609.4" x2="653.2" y2="609.4" stroke="#8c8c8c" stroke-width="1" />
<line x1="653.2" y1="609.4" x2="653.2" y2="659.8" stroke="#d4d4d4" stroke-width="1" />
<line x1="563.6" y1="659.8" x2="653.2" y2="659.8" stroke="#8c8c8c" stroke-width="1" />
<text x="583.9" y="619.2" font-size="9.3" fill="#1c1c1c" textLength="36" lengthAdjust="spacingAndGlyphs"  stroke="#1c1c1c" stroke-width="0.28">ctc [mm]</text>
<text x="639.1" y="619.2" font-size="9.3" text-anchor="start" fill="#1c1c1c"  stroke="#1c1c1c" stroke-width="0.28">f</text>
<text x="642" y="622" font-size="6.7" text-anchor="start" fill="#1c1c1c"  stroke="#1c1c1c" stroke-width="0.28">D</text>
<line x1="564.5" y1="629.8" x2="586.9" y2="629.8" stroke="#ee1f26" stroke-width="1.4" />
<text x="588.7" y="633" font-size="9.3" text-anchor="start" fill="#1c1c1c"  stroke="#1c1c1c" stroke-width="0.28">4.5</text>
<text x="652.1" y="633" font-size="9.3" text-anchor="end" fill="#1c1c1c"  stroke="#1c1c1c" stroke-width="0.28">1.00</text>
<line x1="564.5" y1="641.5" x2="586.9" y2="641.5" stroke="#4470b0" stroke-width="1.4" />
<text x="588.7" y="644.7" font-size="9.3" text-anchor="start" fill="#1c1c1c"  stroke="#1c1c1c" stroke-width="0.28">10.9</text>
<text x="652.1" y="644.7" font-size="9.3" text-anchor="end" fill="#1c1c1c"  stroke="#1c1c1c" stroke-width="0.28">1.30</text>
<line x1="564.5" y1="653" x2="586.9" y2="653" stroke="#f9c12a" stroke-width="1.4" />
<text x="588.7" y="656.2" font-size="9.3" text-anchor="start" fill="#1c1c1c"  stroke="#1c1c1c" stroke-width="0.28">16.6</text>
<text x="652.1" y="656.2" font-size="9.3" text-anchor="end" fill="#1c1c1c"  stroke="#1c1c1c" stroke-width="0.28">1.19</text>
<line x1="184.2" y1="327" x2="184.2" y2="332" stroke="#333333" stroke-width="1" />
<line x1="184.2" y1="71.6" x2="184.2" y2="76.6" stroke="#333333" stroke-width="1" />
<line x1="202.74" y1="327" x2="202.74" y2="330" stroke="#333333" stroke-width="1" />
<line x1="202.74" y1="71.6" x2="202.74" y2="74.6" stroke="#333333" stroke-width="1" />
<line x1="221.28" y1="327" x2="221.28" y2="332" stroke="#333333" stroke-width="1" />
<line x1="221.28" y1="71.6" x2="221.28" y2="76.6" stroke="#333333" stroke-width="1" />
<line x1="239.82" y1="327" x2="239.82" y2="330" stroke="#333333" stroke-width="1" />
<line x1="239.82" y1="71.6" x2="239.82" y2="74.6" stroke="#333333" stroke-width="1" />
<line x1="258.36" y1="327" x2="258.36" y2="332" stroke="#333333" stroke-width="1" />
<line x1="258.36" y1="71.6" x2="258.36" y2="76.6" stroke="#333333" stroke-width="1" />
<line x1="276.9" y1="327" x2="276.9" y2="330" stroke="#333333" stroke-width="1" />
<line x1="276.9" y1="71.6" x2="276.9" y2="74.6" stroke="#333333" stroke-width="1" />
<line x1="295.44" y1="327" x2="295.44" y2="332" stroke="#333333" stroke-width="1" />
<line x1="295.44" y1="71.6" x2="295.44" y2="76.6" stroke="#333333" stroke-width="1" />
<line x1="313.98" y1="327" x2="313.98" y2="330" stroke="#333333" stroke-width="1" />
<line x1="313.98" y1="71.6" x2="313.98" y2="74.6" stroke="#333333" stroke-width="1" />
<line x1="332.52" y1="327" x2="332.52" y2="332" stroke="#333333" stroke-width="1" />
<line x1="332.52" y1="71.6" x2="332.52" y2="76.6" stroke="#333333" stroke-width="1" />
<line x1="351.06" y1="327" x2="351.06" y2="330" stroke="#333333" stroke-width="1" />
<line x1="351.06" y1="71.6" x2="351.06" y2="74.6" stroke="#333333" stroke-width="1" />
<line x1="369.6" y1="327" x2="369.6" y2="332" stroke="#333333" stroke-width="1" />
<line x1="179.2" y1="327" x2="184.2" y2="327" stroke="#333333" stroke-width="1" />
<line x1="181.2" y1="301.46" x2="184.2" y2="301.46" stroke="#333333" stroke-width="1" />
<line x1="179.2" y1="275.92" x2="184.2" y2="275.92" stroke="#333333" stroke-width="1" />
<line x1="181.2" y1="250.38" x2="184.2" y2="250.38" stroke="#333333" stroke-width="1" />
<line x1="179.2" y1="224.84" x2="184.2" y2="224.84" stroke="#333333" stroke-width="1" />
<line x1="181.2" y1="199.3" x2="184.2" y2="199.3" stroke="#333333" stroke-width="1" />
<line x1="179.2" y1="173.76" x2="184.2" y2="173.76" stroke="#333333" stroke-width="1" />
<line x1="181.2" y1="148.22" x2="184.2" y2="148.22" stroke="#333333" stroke-width="1" />
<line x1="179.2" y1="122.68" x2="184.2" y2="122.68" stroke="#333333" stroke-width="1" />
<line x1="181.2" y1="97.14" x2="184.2" y2="97.14" stroke="#333333" stroke-width="1" />
<line x1="179.2" y1="71.6" x2="184.2" y2="71.6" stroke="#333333" stroke-width="1" />
<line x1="183.7" y1="327" x2="369.6" y2="327" stroke="#333333" stroke-width="1" />
<line x1="183.7" y1="71.6" x2="369.6" y2="71.6" stroke="#333333" stroke-width="1" />
<line x1="184.2" y1="71.1" x2="184.2" y2="327.5" stroke="#333333" stroke-width="1" />
<line x1="364.6" y1="327" x2="369.6" y2="327" stroke="#1d9e2c" stroke-width="1.2" />
<line x1="366.6" y1="301.46" x2="369.6" y2="301.46" stroke="#1d9e2c" stroke-width="1.2" />
<line x1="364.6" y1="275.92" x2="369.6" y2="275.92" stroke="#1d9e2c" stroke-width="1.2" />
<line x1="366.6" y1="250.38" x2="369.6" y2="250.38" stroke="#1d9e2c" stroke-width="1.2" />
<line x1="364.6" y1="224.84" x2="369.6" y2="224.84" stroke="#1d9e2c" stroke-width="1.2" />
<line x1="366.6" y1="199.3" x2="369.6" y2="199.3" stroke="#1d9e2c" stroke-width="1.2" />
<line x1="364.6" y1="173.76" x2="369.6" y2="173.76" stroke="#1d9e2c" stroke-width="1.2" />
<line x1="366.6" y1="148.22" x2="369.6" y2="148.22" stroke="#1d9e2c" stroke-width="1.2" />
<line x1="364.6" y1="122.68" x2="369.6" y2="122.68" stroke="#1d9e2c" stroke-width="1.2" />
<line x1="366.6" y1="97.14" x2="369.6" y2="97.14" stroke="#1d9e2c" stroke-width="1.2" />
<line x1="364.6" y1="71.6" x2="369.6" y2="71.6" stroke="#1d9e2c" stroke-width="1.2" />
<line x1="369.6" y1="71" x2="369.6" y2="327.6" stroke="#1d9e2c" stroke-width="1.3" />
<text x="175.4" y="330.7" font-size="10.4" text-anchor="end" fill="#1c1c1c"  stroke="#1c1c1c" stroke-width="0.28">0</text>
<text x="374.5" y="330.7" font-size="10.6" text-anchor="start" fill="#1d9e2c"  stroke="#1d9e2c" stroke-width="0.28">0.0</text>
<text x="175.4" y="279.62" font-size="10.4" text-anchor="end" fill="#1c1c1c"  stroke="#1c1c1c" stroke-width="0.28">20</text>
<text x="374.5" y="279.62" font-size="10.6" text-anchor="start" fill="#1d9e2c"  stroke="#1d9e2c" stroke-width="0.28">0.4</text>
<text x="175.4" y="228.54" font-size="10.4" text-anchor="end" fill="#1c1c1c"  stroke="#1c1c1c" stroke-width="0.28">40</text>
<text x="374.5" y="228.54" font-size="10.6" text-anchor="start" fill="#1d9e2c"  stroke="#1d9e2c" stroke-width="0.28">0.8</text>
<text x="175.4" y="177.46" font-size="10.4" text-anchor="end" fill="#1c1c1c"  stroke="#1c1c1c" stroke-width="0.28">60</text>
<text x="374.5" y="177.46" font-size="10.6" text-anchor="start" fill="#1d9e2c"  stroke="#1d9e2c" stroke-width="0.28">1.2</text>
<text x="175.4" y="126.38" font-size="10.4" text-anchor="end" fill="#1c1c1c"  stroke="#1c1c1c" stroke-width="0.28">80</text>
<text x="374.5" y="126.38" font-size="10.6" text-anchor="start" fill="#1d9e2c"  stroke="#1d9e2c" stroke-width="0.28">1.6</text>
<text x="175.4" y="75.3" font-size="10.4" text-anchor="end" fill="#1c1c1c"  stroke="#1c1c1c" stroke-width="0.28">100</text>
<text x="374.5" y="75.3" font-size="10.6" text-anchor="start" fill="#1d9e2c"  stroke="#1d9e2c" stroke-width="0.28">2.0</text>
<text x="184.2" y="63.6" font-size="10.4" text-anchor="middle" fill="#1c1c1c"  stroke="#1c1c1c" stroke-width="0.28">0</text>
<text x="184.2" y="344.2" font-size="10.4" text-anchor="middle" fill="#1c1c1c"  stroke="#1c1c1c" stroke-width="0.28">10</text>
<text x="221.28" y="63.6" font-size="10.4" text-anchor="middle" fill="#1c1c1c"  stroke="#1c1c1c" stroke-width="0.28">2</text>
<text x="221.28" y="344.2" font-size="10.4" text-anchor="middle" fill="#1c1c1c"  stroke="#1c1c1c" stroke-width="0.28">8</text>
<text x="258.36" y="63.6" font-size="10.4" text-anchor="middle" fill="#1c1c1c"  stroke="#1c1c1c" stroke-width="0.28">4</text>
<text x="258.36" y="344.2" font-size="10.4" text-anchor="middle" fill="#1c1c1c"  stroke="#1c1c1c" stroke-width="0.28">6</text>
<text x="295.44" y="63.6" font-size="10.4" text-anchor="middle" fill="#1c1c1c"  stroke="#1c1c1c" stroke-width="0.28">6</text>
<text x="295.44" y="344.2" font-size="10.4" text-anchor="middle" fill="#1c1c1c"  stroke="#1c1c1c" stroke-width="0.28">4</text>
<text x="332.52" y="63.6" font-size="10.4" text-anchor="middle" fill="#1c1c1c"  stroke="#1c1c1c" stroke-width="0.28">8</text>
<text x="332.52" y="344.2" font-size="10.4" text-anchor="middle" fill="#1c1c1c"  stroke="#1c1c1c" stroke-width="0.28">2</text>
<text x="369.6" y="63.6" font-size="10.4" text-anchor="middle" fill="#1c1c1c"  stroke="#1c1c1c" stroke-width="0.28">10</text>
<text x="369.6" y="344.2" font-size="10.4" text-anchor="middle" fill="#1c1c1c"  stroke="#1c1c1c" stroke-width="0.28">0</text>
<line x1="449.6" y1="327" x2="449.6" y2="332" stroke="#333333" stroke-width="1" />
<line x1="449.6" y1="71" x2="449.6" y2="76" stroke="#333333" stroke-width="1" />
<line x1="468.27" y1="327" x2="468.27" y2="330" stroke="#333333" stroke-width="1" />
<line x1="468.27" y1="71" x2="468.27" y2="74" stroke="#333333" stroke-width="1" />
<line x1="486.94" y1="327" x2="486.94" y2="332" stroke="#333333" stroke-width="1" />
<line x1="486.94" y1="71" x2="486.94" y2="76" stroke="#333333" stroke-width="1" />
<line x1="505.61" y1="327" x2="505.61" y2="330" stroke="#333333" stroke-width="1" />
<line x1="505.61" y1="71" x2="505.61" y2="74" stroke="#333333" stroke-width="1" />
<line x1="524.28" y1="327" x2="524.28" y2="332" stroke="#333333" stroke-width="1" />
<line x1="524.28" y1="71" x2="524.28" y2="76" stroke="#333333" stroke-width="1" />
<line x1="542.95" y1="327" x2="542.95" y2="330" stroke="#333333" stroke-width="1" />
<line x1="542.95" y1="71" x2="542.95" y2="74" stroke="#333333" stroke-width="1" />
<line x1="561.62" y1="327" x2="561.62" y2="332" stroke="#333333" stroke-width="1" />
<line x1="561.62" y1="71" x2="561.62" y2="76" stroke="#333333" stroke-width="1" />
<line x1="580.29" y1="327" x2="580.29" y2="330" stroke="#333333" stroke-width="1" />
<line x1="580.29" y1="71" x2="580.29" y2="74" stroke="#333333" stroke-width="1" />
<line x1="598.96" y1="327" x2="598.96" y2="332" stroke="#333333" stroke-width="1" />
<line x1="598.96" y1="71" x2="598.96" y2="76" stroke="#333333" stroke-width="1" />
<line x1="617.63" y1="327" x2="617.63" y2="330" stroke="#333333" stroke-width="1" />
<line x1="617.63" y1="71" x2="617.63" y2="74" stroke="#333333" stroke-width="1" />
<line x1="636.3" y1="327" x2="636.3" y2="332" stroke="#333333" stroke-width="1" />
<line x1="444.6" y1="327" x2="449.6" y2="327" stroke="#333333" stroke-width="1" />
<line x1="446.6" y1="301.4" x2="449.6" y2="301.4" stroke="#333333" stroke-width="1" />
<line x1="444.6" y1="275.8" x2="449.6" y2="275.8" stroke="#333333" stroke-width="1" />
<line x1="446.6" y1="250.2" x2="449.6" y2="250.2" stroke="#333333" stroke-width="1" />
<line x1="444.6" y1="224.6" x2="449.6" y2="224.6" stroke="#333333" stroke-width="1" />
<line x1="446.6" y1="199" x2="449.6" y2="199" stroke="#333333" stroke-width="1" />
<line x1="444.6" y1="173.4" x2="449.6" y2="173.4" stroke="#333333" stroke-width="1" />
<line x1="446.6" y1="147.8" x2="449.6" y2="147.8" stroke="#333333" stroke-width="1" />
<line x1="444.6" y1="122.2" x2="449.6" y2="122.2" stroke="#333333" stroke-width="1" />
<line x1="446.6" y1="96.6" x2="449.6" y2="96.6" stroke="#333333" stroke-width="1" />
<line x1="444.6" y1="71" x2="449.6" y2="71" stroke="#333333" stroke-width="1" />
<line x1="449.1" y1="327" x2="636.3" y2="327" stroke="#333333" stroke-width="1" />
<line x1="449.1" y1="71" x2="636.3" y2="71" stroke="#333333" stroke-width="1" />
<line x1="449.6" y1="70.5" x2="449.6" y2="327.5" stroke="#333333" stroke-width="1" />
<line x1="631.3" y1="327" x2="636.3" y2="327" stroke="#1d9e2c" stroke-width="1.2" />
<line x1="633.3" y1="301.4" x2="636.3" y2="301.4" stroke="#1d9e2c" stroke-width="1.2" />
<line x1="631.3" y1="275.8" x2="636.3" y2="275.8" stroke="#1d9e2c" stroke-width="1.2" />
<line x1="633.3" y1="250.2" x2="636.3" y2="250.2" stroke="#1d9e2c" stroke-width="1.2" />
<line x1="631.3" y1="224.6" x2="636.3" y2="224.6" stroke="#1d9e2c" stroke-width="1.2" />
<line x1="633.3" y1="199" x2="636.3" y2="199" stroke="#1d9e2c" stroke-width="1.2" />
<line x1="631.3" y1="173.4" x2="636.3" y2="173.4" stroke="#1d9e2c" stroke-width="1.2" />
<line x1="633.3" y1="147.8" x2="636.3" y2="147.8" stroke="#1d9e2c" stroke-width="1.2" />
<line x1="631.3" y1="122.2" x2="636.3" y2="122.2" stroke="#1d9e2c" stroke-width="1.2" />
<line x1="633.3" y1="96.6" x2="636.3" y2="96.6" stroke="#1d9e2c" stroke-width="1.2" />
<line x1="631.3" y1="71" x2="636.3" y2="71" stroke="#1d9e2c" stroke-width="1.2" />
<line x1="636.3" y1="70.4" x2="636.3" y2="327.6" stroke="#1d9e2c" stroke-width="1.3" />
<text x="440.8" y="330.7" font-size="10.4" text-anchor="end" fill="#1c1c1c"  stroke="#1c1c1c" stroke-width="0.28">0</text>
<text x="641.2" y="330.7" font-size="10.6" text-anchor="start" fill="#1d9e2c"  stroke="#1d9e2c" stroke-width="0.28">0.0</text>
<text x="440.8" y="279.5" font-size="10.4" text-anchor="end" fill="#1c1c1c"  stroke="#1c1c1c" stroke-width="0.28">20</text>
<text x="641.2" y="279.5" font-size="10.6" text-anchor="start" fill="#1d9e2c"  stroke="#1d9e2c" stroke-width="0.28">0.4</text>
<text x="440.8" y="228.3" font-size="10.4" text-anchor="end" fill="#1c1c1c"  stroke="#1c1c1c" stroke-width="0.28">40</text>
<text x="641.2" y="228.3" font-size="10.6" text-anchor="start" fill="#1d9e2c"  stroke="#1d9e2c" stroke-width="0.28">0.8</text>
<text x="440.8" y="177.1" font-size="10.4" text-anchor="end" fill="#1c1c1c"  stroke="#1c1c1c" stroke-width="0.28">60</text>
<text x="641.2" y="177.1" font-size="10.6" text-anchor="start" fill="#1d9e2c"  stroke="#1d9e2c" stroke-width="0.28">1.2</text>
<text x="440.8" y="125.9" font-size="10.4" text-anchor="end" fill="#1c1c1c"  stroke="#1c1c1c" stroke-width="0.28">80</text>
<text x="641.2" y="125.9" font-size="10.6" text-anchor="start" fill="#1d9e2c"  stroke="#1d9e2c" stroke-width="0.28">1.6</text>
<text x="440.8" y="74.7" font-size="10.4" text-anchor="end" fill="#1c1c1c"  stroke="#1c1c1c" stroke-width="0.28">100</text>
<text x="641.2" y="74.7" font-size="10.6" text-anchor="start" fill="#1d9e2c"  stroke="#1d9e2c" stroke-width="0.28">2.0</text>
<text x="449.6" y="63" font-size="10.4" text-anchor="middle" fill="#1c1c1c"  stroke="#1c1c1c" stroke-width="0.28">0</text>
<text x="449.6" y="344.2" font-size="10.4" text-anchor="middle" fill="#1c1c1c"  stroke="#1c1c1c" stroke-width="0.28">10</text>
<text x="486.94" y="63" font-size="10.4" text-anchor="middle" fill="#1c1c1c"  stroke="#1c1c1c" stroke-width="0.28">2</text>
<text x="486.94" y="344.2" font-size="10.4" text-anchor="middle" fill="#1c1c1c"  stroke="#1c1c1c" stroke-width="0.28">8</text>
<text x="524.28" y="63" font-size="10.4" text-anchor="middle" fill="#1c1c1c"  stroke="#1c1c1c" stroke-width="0.28">4</text>
<text x="524.28" y="344.2" font-size="10.4" text-anchor="middle" fill="#1c1c1c"  stroke="#1c1c1c" stroke-width="0.28">6</text>
<text x="561.62" y="63" font-size="10.4" text-anchor="middle" fill="#1c1c1c"  stroke="#1c1c1c" stroke-width="0.28">6</text>
<text x="561.62" y="344.2" font-size="10.4" text-anchor="middle" fill="#1c1c1c"  stroke="#1c1c1c" stroke-width="0.28">4</text>
<text x="598.96" y="63" font-size="10.4" text-anchor="middle" fill="#1c1c1c"  stroke="#1c1c1c" stroke-width="0.28">8</text>
<text x="598.96" y="344.2" font-size="10.4" text-anchor="middle" fill="#1c1c1c"  stroke="#1c1c1c" stroke-width="0.28">2</text>
<text x="636.3" y="63" font-size="10.4" text-anchor="middle" fill="#1c1c1c"  stroke="#1c1c1c" stroke-width="0.28">10</text>
<text x="636.3" y="344.2" font-size="10.4" text-anchor="middle" fill="#1c1c1c"  stroke="#1c1c1c" stroke-width="0.28">0</text>
<line x1="60.1" y1="701.2" x2="60.1" y2="706.2" stroke="#333333" stroke-width="1" />
<line x1="60.1" y1="446.6" x2="60.1" y2="451.6" stroke="#333333" stroke-width="1" />
<line x1="78.65" y1="701.2" x2="78.65" y2="704.2" stroke="#333333" stroke-width="1" />
<line x1="78.65" y1="446.6" x2="78.65" y2="449.6" stroke="#333333" stroke-width="1" />
<line x1="97.2" y1="701.2" x2="97.2" y2="706.2" stroke="#333333" stroke-width="1" />
<line x1="97.2" y1="446.6" x2="97.2" y2="451.6" stroke="#333333" stroke-width="1" />
<line x1="115.75" y1="701.2" x2="115.75" y2="704.2" stroke="#333333" stroke-width="1" />
<line x1="115.75" y1="446.6" x2="115.75" y2="449.6" stroke="#333333" stroke-width="1" />
<line x1="134.3" y1="701.2" x2="134.3" y2="706.2" stroke="#333333" stroke-width="1" />
<line x1="134.3" y1="446.6" x2="134.3" y2="451.6" stroke="#333333" stroke-width="1" />
<line x1="152.85" y1="701.2" x2="152.85" y2="704.2" stroke="#333333" stroke-width="1" />
<line x1="152.85" y1="446.6" x2="152.85" y2="449.6" stroke="#333333" stroke-width="1" />
<line x1="171.4" y1="701.2" x2="171.4" y2="706.2" stroke="#333333" stroke-width="1" />
<line x1="171.4" y1="446.6" x2="171.4" y2="451.6" stroke="#333333" stroke-width="1" />
<line x1="189.95" y1="701.2" x2="189.95" y2="704.2" stroke="#333333" stroke-width="1" />
<line x1="189.95" y1="446.6" x2="189.95" y2="449.6" stroke="#333333" stroke-width="1" />
<line x1="208.5" y1="701.2" x2="208.5" y2="706.2" stroke="#333333" stroke-width="1" />
<line x1="208.5" y1="446.6" x2="208.5" y2="451.6" stroke="#333333" stroke-width="1" />
<line x1="227.05" y1="701.2" x2="227.05" y2="704.2" stroke="#333333" stroke-width="1" />
<line x1="227.05" y1="446.6" x2="227.05" y2="449.6" stroke="#333333" stroke-width="1" />
<line x1="245.6" y1="701.2" x2="245.6" y2="706.2" stroke="#333333" stroke-width="1" />
<line x1="55.1" y1="701.2" x2="60.1" y2="701.2" stroke="#333333" stroke-width="1" />
<line x1="57.1" y1="675.74" x2="60.1" y2="675.74" stroke="#333333" stroke-width="1" />
<line x1="55.1" y1="650.28" x2="60.1" y2="650.28" stroke="#333333" stroke-width="1" />
<line x1="57.1" y1="624.82" x2="60.1" y2="624.82" stroke="#333333" stroke-width="1" />
<line x1="55.1" y1="599.36" x2="60.1" y2="599.36" stroke="#333333" stroke-width="1" />
<line x1="57.1" y1="573.9" x2="60.1" y2="573.9" stroke="#333333" stroke-width="1" />
<line x1="55.1" y1="548.44" x2="60.1" y2="548.44" stroke="#333333" stroke-width="1" />
<line x1="57.1" y1="522.98" x2="60.1" y2="522.98" stroke="#333333" stroke-width="1" />
<line x1="55.1" y1="497.52" x2="60.1" y2="497.52" stroke="#333333" stroke-width="1" />
<line x1="57.1" y1="472.06" x2="60.1" y2="472.06" stroke="#333333" stroke-width="1" />
<line x1="55.1" y1="446.6" x2="60.1" y2="446.6" stroke="#333333" stroke-width="1" />
<line x1="59.6" y1="701.2" x2="245.6" y2="701.2" stroke="#333333" stroke-width="1" />
<line x1="59.6" y1="446.6" x2="245.6" y2="446.6" stroke="#333333" stroke-width="1" />
<line x1="60.1" y1="446.1" x2="60.1" y2="701.7" stroke="#333333" stroke-width="1" />
<line x1="240.6" y1="701.2" x2="245.6" y2="701.2" stroke="#1d9e2c" stroke-width="1.2" />
<line x1="242.6" y1="675.74" x2="245.6" y2="675.74" stroke="#1d9e2c" stroke-width="1.2" />
<line x1="240.6" y1="650.28" x2="245.6" y2="650.28" stroke="#1d9e2c" stroke-width="1.2" />
<line x1="242.6" y1="624.82" x2="245.6" y2="624.82" stroke="#1d9e2c" stroke-width="1.2" />
<line x1="240.6" y1="599.36" x2="245.6" y2="599.36" stroke="#1d9e2c" stroke-width="1.2" />
<line x1="242.6" y1="573.9" x2="245.6" y2="573.9" stroke="#1d9e2c" stroke-width="1.2" />
<line x1="240.6" y1="548.44" x2="245.6" y2="548.44" stroke="#1d9e2c" stroke-width="1.2" />
<line x1="242.6" y1="522.98" x2="245.6" y2="522.98" stroke="#1d9e2c" stroke-width="1.2" />
<line x1="240.6" y1="497.52" x2="245.6" y2="497.52" stroke="#1d9e2c" stroke-width="1.2" />
<line x1="242.6" y1="472.06" x2="245.6" y2="472.06" stroke="#1d9e2c" stroke-width="1.2" />
<line x1="240.6" y1="446.6" x2="245.6" y2="446.6" stroke="#1d9e2c" stroke-width="1.2" />
<line x1="245.6" y1="446" x2="245.6" y2="701.8" stroke="#1d9e2c" stroke-width="1.3" />
<text x="51.3" y="704.9" font-size="10.4" text-anchor="end" fill="#1c1c1c"  stroke="#1c1c1c" stroke-width="0.28">0</text>
<text x="250.5" y="704.9" font-size="10.6" text-anchor="start" fill="#1d9e2c"  stroke="#1d9e2c" stroke-width="0.28">0.0</text>
<text x="51.3" y="653.98" font-size="10.4" text-anchor="end" fill="#1c1c1c"  stroke="#1c1c1c" stroke-width="0.28">20</text>
<text x="250.5" y="653.98" font-size="10.6" text-anchor="start" fill="#1d9e2c"  stroke="#1d9e2c" stroke-width="0.28">0.3</text>
<text x="51.3" y="603.06" font-size="10.4" text-anchor="end" fill="#1c1c1c"  stroke="#1c1c1c" stroke-width="0.28">40</text>
<text x="250.5" y="603.06" font-size="10.6" text-anchor="start" fill="#1d9e2c"  stroke="#1d9e2c" stroke-width="0.28">0.6</text>
<text x="51.3" y="552.14" font-size="10.4" text-anchor="end" fill="#1c1c1c"  stroke="#1c1c1c" stroke-width="0.28">60</text>
<text x="250.5" y="552.14" font-size="10.6" text-anchor="start" fill="#1d9e2c"  stroke="#1d9e2c" stroke-width="0.28">0.9</text>
<text x="51.3" y="501.22" font-size="10.4" text-anchor="end" fill="#1c1c1c"  stroke="#1c1c1c" stroke-width="0.28">80</text>
<text x="250.5" y="501.22" font-size="10.6" text-anchor="start" fill="#1d9e2c"  stroke="#1d9e2c" stroke-width="0.28">1.2</text>
<text x="51.3" y="450.3" font-size="10.4" text-anchor="end" fill="#1c1c1c"  stroke="#1c1c1c" stroke-width="0.28">100</text>
<text x="250.5" y="450.3" font-size="10.6" text-anchor="start" fill="#1d9e2c"  stroke="#1d9e2c" stroke-width="0.28">1.5</text>
<text x="60.1" y="438.6" font-size="10.4" text-anchor="middle" fill="#1c1c1c"  stroke="#1c1c1c" stroke-width="0.28">0</text>
<text x="60.1" y="718.4" font-size="10.4" text-anchor="middle" fill="#1c1c1c"  stroke="#1c1c1c" stroke-width="0.28">10</text>
<text x="97.2" y="438.6" font-size="10.4" text-anchor="middle" fill="#1c1c1c"  stroke="#1c1c1c" stroke-width="0.28">2</text>
<text x="97.2" y="718.4" font-size="10.4" text-anchor="middle" fill="#1c1c1c"  stroke="#1c1c1c" stroke-width="0.28">8</text>
<text x="134.3" y="438.6" font-size="10.4" text-anchor="middle" fill="#1c1c1c"  stroke="#1c1c1c" stroke-width="0.28">4</text>
<text x="134.3" y="718.4" font-size="10.4" text-anchor="middle" fill="#1c1c1c"  stroke="#1c1c1c" stroke-width="0.28">6</text>
<text x="171.4" y="438.6" font-size="10.4" text-anchor="middle" fill="#1c1c1c"  stroke="#1c1c1c" stroke-width="0.28">6</text>
<text x="171.4" y="718.4" font-size="10.4" text-anchor="middle" fill="#1c1c1c"  stroke="#1c1c1c" stroke-width="0.28">4</text>
<text x="208.5" y="438.6" font-size="10.4" text-anchor="middle" fill="#1c1c1c"  stroke="#1c1c1c" stroke-width="0.28">8</text>
<text x="208.5" y="718.4" font-size="10.4" text-anchor="middle" fill="#1c1c1c"  stroke="#1c1c1c" stroke-width="0.28">2</text>
<text x="245.6" y="438.6" font-size="10.4" text-anchor="middle" fill="#1c1c1c"  stroke="#1c1c1c" stroke-width="0.28">10</text>
<text x="245.6" y="718.4" font-size="10.4" text-anchor="middle" fill="#1c1c1c"  stroke="#1c1c1c" stroke-width="0.28">0</text>
<line x1="312.6" y1="702.5" x2="312.6" y2="707.5" stroke="#333333" stroke-width="1" />
<line x1="312.6" y1="448.3" x2="312.6" y2="453.3" stroke="#333333" stroke-width="1" />
<line x1="331.09" y1="702.5" x2="331.09" y2="705.5" stroke="#333333" stroke-width="1" />
<line x1="331.09" y1="448.3" x2="331.09" y2="451.3" stroke="#333333" stroke-width="1" />
<line x1="349.58" y1="702.5" x2="349.58" y2="707.5" stroke="#333333" stroke-width="1" />
<line x1="349.58" y1="448.3" x2="349.58" y2="453.3" stroke="#333333" stroke-width="1" />
<line x1="368.07" y1="702.5" x2="368.07" y2="705.5" stroke="#333333" stroke-width="1" />
<line x1="368.07" y1="448.3" x2="368.07" y2="451.3" stroke="#333333" stroke-width="1" />
<line x1="386.56" y1="702.5" x2="386.56" y2="707.5" stroke="#333333" stroke-width="1" />
<line x1="386.56" y1="448.3" x2="386.56" y2="453.3" stroke="#333333" stroke-width="1" />
<line x1="405.05" y1="702.5" x2="405.05" y2="705.5" stroke="#333333" stroke-width="1" />
<line x1="405.05" y1="448.3" x2="405.05" y2="451.3" stroke="#333333" stroke-width="1" />
<line x1="423.54" y1="702.5" x2="423.54" y2="707.5" stroke="#333333" stroke-width="1" />
<line x1="423.54" y1="448.3" x2="423.54" y2="453.3" stroke="#333333" stroke-width="1" />
<line x1="442.03" y1="702.5" x2="442.03" y2="705.5" stroke="#333333" stroke-width="1" />
<line x1="442.03" y1="448.3" x2="442.03" y2="451.3" stroke="#333333" stroke-width="1" />
<line x1="460.52" y1="702.5" x2="460.52" y2="707.5" stroke="#333333" stroke-width="1" />
<line x1="460.52" y1="448.3" x2="460.52" y2="453.3" stroke="#333333" stroke-width="1" />
<line x1="479.01" y1="702.5" x2="479.01" y2="705.5" stroke="#333333" stroke-width="1" />
<line x1="479.01" y1="448.3" x2="479.01" y2="451.3" stroke="#333333" stroke-width="1" />
<line x1="497.5" y1="702.5" x2="497.5" y2="707.5" stroke="#333333" stroke-width="1" />
<line x1="307.6" y1="702.5" x2="312.6" y2="702.5" stroke="#333333" stroke-width="1" />
<line x1="309.6" y1="677.08" x2="312.6" y2="677.08" stroke="#333333" stroke-width="1" />
<line x1="307.6" y1="651.66" x2="312.6" y2="651.66" stroke="#333333" stroke-width="1" />
<line x1="309.6" y1="626.24" x2="312.6" y2="626.24" stroke="#333333" stroke-width="1" />
<line x1="307.6" y1="600.82" x2="312.6" y2="600.82" stroke="#333333" stroke-width="1" />
<line x1="309.6" y1="575.4" x2="312.6" y2="575.4" stroke="#333333" stroke-width="1" />
<line x1="307.6" y1="549.98" x2="312.6" y2="549.98" stroke="#333333" stroke-width="1" />
<line x1="309.6" y1="524.56" x2="312.6" y2="524.56" stroke="#333333" stroke-width="1" />
<line x1="307.6" y1="499.14" x2="312.6" y2="499.14" stroke="#333333" stroke-width="1" />
<line x1="309.6" y1="473.72" x2="312.6" y2="473.72" stroke="#333333" stroke-width="1" />
<line x1="307.6" y1="448.3" x2="312.6" y2="448.3" stroke="#333333" stroke-width="1" />
<line x1="312.1" y1="702.5" x2="497.5" y2="702.5" stroke="#333333" stroke-width="1" />
<line x1="312.1" y1="448.3" x2="497.5" y2="448.3" stroke="#333333" stroke-width="1" />
<line x1="312.6" y1="447.8" x2="312.6" y2="703" stroke="#333333" stroke-width="1" />
<line x1="492.5" y1="702.5" x2="497.5" y2="702.5" stroke="#1d9e2c" stroke-width="1.2" />
<line x1="494.5" y1="677.08" x2="497.5" y2="677.08" stroke="#1d9e2c" stroke-width="1.2" />
<line x1="492.5" y1="651.66" x2="497.5" y2="651.66" stroke="#1d9e2c" stroke-width="1.2" />
<line x1="494.5" y1="626.24" x2="497.5" y2="626.24" stroke="#1d9e2c" stroke-width="1.2" />
<line x1="492.5" y1="600.82" x2="497.5" y2="600.82" stroke="#1d9e2c" stroke-width="1.2" />
<line x1="494.5" y1="575.4" x2="497.5" y2="575.4" stroke="#1d9e2c" stroke-width="1.2" />
<line x1="492.5" y1="549.98" x2="497.5" y2="549.98" stroke="#1d9e2c" stroke-width="1.2" />
<line x1="494.5" y1="524.56" x2="497.5" y2="524.56" stroke="#1d9e2c" stroke-width="1.2" />
<line x1="492.5" y1="499.14" x2="497.5" y2="499.14" stroke="#1d9e2c" stroke-width="1.2" />
<line x1="494.5" y1="473.72" x2="497.5" y2="473.72" stroke="#1d9e2c" stroke-width="1.2" />
<line x1="492.5" y1="448.3" x2="497.5" y2="448.3" stroke="#1d9e2c" stroke-width="1.2" />
<line x1="497.5" y1="447.7" x2="497.5" y2="703.1" stroke="#1d9e2c" stroke-width="1.3" />
<text x="303.8" y="706.2" font-size="10.4" text-anchor="end" fill="#1c1c1c"  stroke="#1c1c1c" stroke-width="0.28">0</text>
<text x="502.4" y="706.2" font-size="10.6" text-anchor="start" fill="#1d9e2c"  stroke="#1d9e2c" stroke-width="0.28">0.0</text>
<text x="303.8" y="655.36" font-size="10.4" text-anchor="end" fill="#1c1c1c"  stroke="#1c1c1c" stroke-width="0.28">20</text>
<text x="502.4" y="655.36" font-size="10.6" text-anchor="start" fill="#1d9e2c"  stroke="#1d9e2c" stroke-width="0.28">0.3</text>
<text x="303.8" y="604.52" font-size="10.4" text-anchor="end" fill="#1c1c1c"  stroke="#1c1c1c" stroke-width="0.28">40</text>
<text x="502.4" y="604.52" font-size="10.6" text-anchor="start" fill="#1d9e2c"  stroke="#1d9e2c" stroke-width="0.28">0.6</text>
<text x="303.8" y="553.68" font-size="10.4" text-anchor="end" fill="#1c1c1c"  stroke="#1c1c1c" stroke-width="0.28">60</text>
<text x="502.4" y="553.68" font-size="10.6" text-anchor="start" fill="#1d9e2c"  stroke="#1d9e2c" stroke-width="0.28">0.9</text>
<text x="303.8" y="502.84" font-size="10.4" text-anchor="end" fill="#1c1c1c"  stroke="#1c1c1c" stroke-width="0.28">80</text>
<text x="502.4" y="502.84" font-size="10.6" text-anchor="start" fill="#1d9e2c"  stroke="#1d9e2c" stroke-width="0.28">1.2</text>
<text x="303.8" y="452" font-size="10.4" text-anchor="end" fill="#1c1c1c"  stroke="#1c1c1c" stroke-width="0.28">100</text>
<text x="502.4" y="452" font-size="10.6" text-anchor="start" fill="#1d9e2c"  stroke="#1d9e2c" stroke-width="0.28">1.5</text>
<text x="312.6" y="440.3" font-size="10.4" text-anchor="middle" fill="#1c1c1c"  stroke="#1c1c1c" stroke-width="0.28">0</text>
<text x="312.6" y="719.7" font-size="10.4" text-anchor="middle" fill="#1c1c1c"  stroke="#1c1c1c" stroke-width="0.28">10</text>
<text x="349.58" y="440.3" font-size="10.4" text-anchor="middle" fill="#1c1c1c"  stroke="#1c1c1c" stroke-width="0.28">2</text>
<text x="349.58" y="719.7" font-size="10.4" text-anchor="middle" fill="#1c1c1c"  stroke="#1c1c1c" stroke-width="0.28">8</text>
<text x="386.56" y="440.3" font-size="10.4" text-anchor="middle" fill="#1c1c1c"  stroke="#1c1c1c" stroke-width="0.28">4</text>
<text x="386.56" y="719.7" font-size="10.4" text-anchor="middle" fill="#1c1c1c"  stroke="#1c1c1c" stroke-width="0.28">6</text>
<text x="423.54" y="440.3" font-size="10.4" text-anchor="middle" fill="#1c1c1c"  stroke="#1c1c1c" stroke-width="0.28">6</text>
<text x="423.54" y="719.7" font-size="10.4" text-anchor="middle" fill="#1c1c1c"  stroke="#1c1c1c" stroke-width="0.28">4</text>
<text x="460.52" y="440.3" font-size="10.4" text-anchor="middle" fill="#1c1c1c"  stroke="#1c1c1c" stroke-width="0.28">8</text>
<text x="460.52" y="719.7" font-size="10.4" text-anchor="middle" fill="#1c1c1c"  stroke="#1c1c1c" stroke-width="0.28">2</text>
<text x="497.5" y="440.3" font-size="10.4" text-anchor="middle" fill="#1c1c1c"  stroke="#1c1c1c" stroke-width="0.28">10</text>
<text x="497.5" y="719.7" font-size="10.4" text-anchor="middle" fill="#1c1c1c"  stroke="#1c1c1c" stroke-width="0.28">0</text>
<line x1="563.6" y1="703.7" x2="563.6" y2="708.7" stroke="#333333" stroke-width="1" />
<line x1="563.6" y1="449.4" x2="563.6" y2="454.4" stroke="#333333" stroke-width="1" />
<line x1="582.17" y1="703.7" x2="582.17" y2="706.7" stroke="#333333" stroke-width="1" />
<line x1="582.17" y1="449.4" x2="582.17" y2="452.4" stroke="#333333" stroke-width="1" />
<line x1="600.74" y1="703.7" x2="600.74" y2="708.7" stroke="#333333" stroke-width="1" />
<line x1="600.74" y1="449.4" x2="600.74" y2="454.4" stroke="#333333" stroke-width="1" />
<line x1="619.31" y1="703.7" x2="619.31" y2="706.7" stroke="#333333" stroke-width="1" />
<line x1="619.31" y1="449.4" x2="619.31" y2="452.4" stroke="#333333" stroke-width="1" />
<line x1="637.88" y1="703.7" x2="637.88" y2="708.7" stroke="#333333" stroke-width="1" />
<line x1="637.88" y1="449.4" x2="637.88" y2="454.4" stroke="#333333" stroke-width="1" />
<line x1="656.45" y1="703.7" x2="656.45" y2="706.7" stroke="#333333" stroke-width="1" />
<line x1="656.45" y1="449.4" x2="656.45" y2="452.4" stroke="#333333" stroke-width="1" />
<line x1="675.02" y1="703.7" x2="675.02" y2="708.7" stroke="#333333" stroke-width="1" />
<line x1="675.02" y1="449.4" x2="675.02" y2="454.4" stroke="#333333" stroke-width="1" />
<line x1="693.59" y1="703.7" x2="693.59" y2="706.7" stroke="#333333" stroke-width="1" />
<line x1="693.59" y1="449.4" x2="693.59" y2="452.4" stroke="#333333" stroke-width="1" />
<line x1="712.16" y1="703.7" x2="712.16" y2="708.7" stroke="#333333" stroke-width="1" />
<line x1="712.16" y1="449.4" x2="712.16" y2="454.4" stroke="#333333" stroke-width="1" />
<line x1="730.73" y1="703.7" x2="730.73" y2="706.7" stroke="#333333" stroke-width="1" />
<line x1="730.73" y1="449.4" x2="730.73" y2="452.4" stroke="#333333" stroke-width="1" />
<line x1="749.3" y1="703.7" x2="749.3" y2="708.7" stroke="#333333" stroke-width="1" />
<line x1="558.6" y1="703.7" x2="563.6" y2="703.7" stroke="#333333" stroke-width="1" />
<line x1="560.6" y1="678.27" x2="563.6" y2="678.27" stroke="#333333" stroke-width="1" />
<line x1="558.6" y1="652.84" x2="563.6" y2="652.84" stroke="#333333" stroke-width="1" />
<line x1="560.6" y1="627.41" x2="563.6" y2="627.41" stroke="#333333" stroke-width="1" />
<line x1="558.6" y1="601.98" x2="563.6" y2="601.98" stroke="#333333" stroke-width="1" />
<line x1="560.6" y1="576.55" x2="563.6" y2="576.55" stroke="#333333" stroke-width="1" />
<line x1="558.6" y1="551.12" x2="563.6" y2="551.12" stroke="#333333" stroke-width="1" />
<line x1="560.6" y1="525.69" x2="563.6" y2="525.69" stroke="#333333" stroke-width="1" />
<line x1="558.6" y1="500.26" x2="563.6" y2="500.26" stroke="#333333" stroke-width="1" />
<line x1="560.6" y1="474.83" x2="563.6" y2="474.83" stroke="#333333" stroke-width="1" />
<line x1="558.6" y1="449.4" x2="563.6" y2="449.4" stroke="#333333" stroke-width="1" />
<line x1="563.1" y1="703.7" x2="749.3" y2="703.7" stroke="#333333" stroke-width="1" />
<line x1="563.1" y1="449.4" x2="749.3" y2="449.4" stroke="#333333" stroke-width="1" />
<line x1="563.6" y1="448.9" x2="563.6" y2="704.2" stroke="#333333" stroke-width="1" />
<line x1="744.3" y1="703.7" x2="749.3" y2="703.7" stroke="#1d9e2c" stroke-width="1.2" />
<line x1="746.3" y1="678.27" x2="749.3" y2="678.27" stroke="#1d9e2c" stroke-width="1.2" />
<line x1="744.3" y1="652.84" x2="749.3" y2="652.84" stroke="#1d9e2c" stroke-width="1.2" />
<line x1="746.3" y1="627.41" x2="749.3" y2="627.41" stroke="#1d9e2c" stroke-width="1.2" />
<line x1="744.3" y1="601.98" x2="749.3" y2="601.98" stroke="#1d9e2c" stroke-width="1.2" />
<line x1="746.3" y1="576.55" x2="749.3" y2="576.55" stroke="#1d9e2c" stroke-width="1.2" />
<line x1="744.3" y1="551.12" x2="749.3" y2="551.12" stroke="#1d9e2c" stroke-width="1.2" />
<line x1="746.3" y1="525.69" x2="749.3" y2="525.69" stroke="#1d9e2c" stroke-width="1.2" />
<line x1="744.3" y1="500.26" x2="749.3" y2="500.26" stroke="#1d9e2c" stroke-width="1.2" />
<line x1="746.3" y1="474.83" x2="749.3" y2="474.83" stroke="#1d9e2c" stroke-width="1.2" />
<line x1="744.3" y1="449.4" x2="749.3" y2="449.4" stroke="#1d9e2c" stroke-width="1.2" />
<line x1="749.3" y1="448.8" x2="749.3" y2="704.3" stroke="#1d9e2c" stroke-width="1.3" />
<text x="554.8" y="707.4" font-size="10.4" text-anchor="end" fill="#1c1c1c"  stroke="#1c1c1c" stroke-width="0.28">0</text>
<text x="754.2" y="707.4" font-size="10.6" text-anchor="start" fill="#1d9e2c"  stroke="#1d9e2c" stroke-width="0.28">0.0</text>
<text x="554.8" y="656.54" font-size="10.4" text-anchor="end" fill="#1c1c1c"  stroke="#1c1c1c" stroke-width="0.28">20</text>
<text x="754.2" y="656.54" font-size="10.6" text-anchor="start" fill="#1d9e2c"  stroke="#1d9e2c" stroke-width="0.28">0.3</text>
<text x="554.8" y="605.68" font-size="10.4" text-anchor="end" fill="#1c1c1c"  stroke="#1c1c1c" stroke-width="0.28">40</text>
<text x="754.2" y="605.68" font-size="10.6" text-anchor="start" fill="#1d9e2c"  stroke="#1d9e2c" stroke-width="0.28">0.6</text>
<text x="554.8" y="554.82" font-size="10.4" text-anchor="end" fill="#1c1c1c"  stroke="#1c1c1c" stroke-width="0.28">60</text>
<text x="754.2" y="554.82" font-size="10.6" text-anchor="start" fill="#1d9e2c"  stroke="#1d9e2c" stroke-width="0.28">0.9</text>
<text x="554.8" y="503.96" font-size="10.4" text-anchor="end" fill="#1c1c1c"  stroke="#1c1c1c" stroke-width="0.28">80</text>
<text x="754.2" y="503.96" font-size="10.6" text-anchor="start" fill="#1d9e2c"  stroke="#1d9e2c" stroke-width="0.28">1.2</text>
<text x="554.8" y="453.1" font-size="10.4" text-anchor="end" fill="#1c1c1c"  stroke="#1c1c1c" stroke-width="0.28">100</text>
<text x="754.2" y="453.1" font-size="10.6" text-anchor="start" fill="#1d9e2c"  stroke="#1d9e2c" stroke-width="0.28">1.5</text>
<text x="563.6" y="441.4" font-size="10.4" text-anchor="middle" fill="#1c1c1c"  stroke="#1c1c1c" stroke-width="0.28">0</text>
<text x="563.6" y="720.9" font-size="10.4" text-anchor="middle" fill="#1c1c1c"  stroke="#1c1c1c" stroke-width="0.28">10</text>
<text x="600.74" y="441.4" font-size="10.4" text-anchor="middle" fill="#1c1c1c"  stroke="#1c1c1c" stroke-width="0.28">2</text>
<text x="600.74" y="720.9" font-size="10.4" text-anchor="middle" fill="#1c1c1c"  stroke="#1c1c1c" stroke-width="0.28">8</text>
<text x="637.88" y="441.4" font-size="10.4" text-anchor="middle" fill="#1c1c1c"  stroke="#1c1c1c" stroke-width="0.28">4</text>
<text x="637.88" y="720.9" font-size="10.4" text-anchor="middle" fill="#1c1c1c"  stroke="#1c1c1c" stroke-width="0.28">6</text>
<text x="675.02" y="441.4" font-size="10.4" text-anchor="middle" fill="#1c1c1c"  stroke="#1c1c1c" stroke-width="0.28">6</text>
<text x="675.02" y="720.9" font-size="10.4" text-anchor="middle" fill="#1c1c1c"  stroke="#1c1c1c" stroke-width="0.28">4</text>
<text x="712.16" y="441.4" font-size="10.4" text-anchor="middle" fill="#1c1c1c"  stroke="#1c1c1c" stroke-width="0.28">8</text>
<text x="712.16" y="720.9" font-size="10.4" text-anchor="middle" fill="#1c1c1c"  stroke="#1c1c1c" stroke-width="0.28">2</text>
<text x="749.3" y="441.4" font-size="10.4" text-anchor="middle" fill="#1c1c1c"  stroke="#1c1c1c" stroke-width="0.28">10</text>
<text x="749.3" y="720.9" font-size="10.4" text-anchor="middle" fill="#1c1c1c"  stroke="#1c1c1c" stroke-width="0.28">0</text>
<rect x="441.5" y="275.4" width="89.3" height="50.6" fill="#fff"/>
<line x1="441.5" y1="275.4" x2="530.8" y2="275.4" stroke="#c4c4c4" stroke-width="1" />
<line x1="530.8" y1="275.4" x2="530.8" y2="326" stroke="#d4d4d4" stroke-width="1" />
<line x1="441.5" y1="326" x2="530.8" y2="326" stroke="#c4c4c4" stroke-width="1" />
<line x1="441.5" y1="275.4" x2="441.5" y2="326" stroke="#a8a8a8" stroke-width="1" />
<text x="461.6" y="285.8" font-size="9.3" fill="#1c1c1c" textLength="35.7" lengthAdjust="spacingAndGlyphs"  stroke="#1c1c1c" stroke-width="0.28">ctc [mm]</text>
<text x="516.7" y="285.8" font-size="9.3" text-anchor="start" fill="#1c1c1c"  stroke="#1c1c1c" stroke-width="0.28">f</text>
<text x="519.6" y="288.6" font-size="6.7" text-anchor="start" fill="#1c1c1c"  stroke="#1c1c1c" stroke-width="0.28">D</text>
<line x1="442.2" y1="296.2" x2="464" y2="296.2" stroke="#ee1f26" stroke-width="1.4" />
<text x="466.8" y="299.4" font-size="9.3" text-anchor="start" fill="#1c1c1c"  stroke="#1c1c1c" stroke-width="0.28">3.7</text>
<text x="529.6" y="299.4" font-size="9.3" text-anchor="end" fill="#1c1c1c"  stroke="#1c1c1c" stroke-width="0.28">1.00</text>
<line x1="442.2" y1="308.3" x2="464" y2="308.3" stroke="#4470b0" stroke-width="1.4" />
<text x="466.8" y="311.5" font-size="9.3" text-anchor="start" fill="#1c1c1c"  stroke="#1c1c1c" stroke-width="0.28">6.0</text>
<text x="529.6" y="311.5" font-size="9.3" text-anchor="end" fill="#1c1c1c"  stroke="#1c1c1c" stroke-width="0.28">1.37</text>
<line x1="442.2" y1="320.1" x2="464" y2="320.1" stroke="#f9c12a" stroke-width="1.4" />
<text x="466.8" y="323.3" font-size="9.3" text-anchor="start" fill="#1c1c1c"  stroke="#1c1c1c" stroke-width="0.28">7.2</text>
<text x="529.6" y="323.3" font-size="9.3" text-anchor="end" fill="#1c1c1c"  stroke="#1c1c1c" stroke-width="0.28">2.00</text>
<text x="277.15" y="46.5" font-size="13.2" text-anchor="middle" fill="#1c1c1c"  stroke="#1c1c1c" stroke-width="0.28">depth [cm]</text>
<text x="543.05" y="45.3" font-size="13.2" text-anchor="middle" fill="#1c1c1c"  stroke="#1c1c1c" stroke-width="0.28">depth [cm]</text>
<text x="152.75" y="420.9" font-size="13.2" text-anchor="middle" fill="#1c1c1c"  stroke="#1c1c1c" stroke-width="0.28">depth [cm]</text>
<text x="405.15" y="422.9" font-size="13.2" text-anchor="middle" fill="#1c1c1c"  stroke="#1c1c1c" stroke-width="0.28">depth [cm]</text>
<text x="656.55" y="423.7" font-size="13.2" text-anchor="middle" fill="#1c1c1c"  stroke="#1c1c1c" stroke-width="0.28">depth [cm]</text>
<text x="276.65" y="363.8" font-size="13" text-anchor="middle" fill="#1c1c1c"  stroke="#1c1c1c" stroke-width="0.28">distance to tumor [cm]</text>
<text x="543.45" y="364.6" font-size="13" text-anchor="middle" fill="#1c1c1c"  stroke="#1c1c1c" stroke-width="0.28">distance to tumor [cm]</text>
<text x="152.55" y="738.6" font-size="13" text-anchor="middle" fill="#1c1c1c"  stroke="#1c1c1c" stroke-width="0.28">distance to tumor [cm]</text>
<text x="404.95" y="739.2" font-size="13" text-anchor="middle" fill="#1c1c1c"  stroke="#1c1c1c" stroke-width="0.28">distance to tumor [cm]</text>
<text x="656.05" y="741.2" font-size="13" text-anchor="middle" fill="#1c1c1c"  stroke="#1c1c1c" stroke-width="0.28">distance to tumor [cm]</text>
<text transform="translate(143,191.75) rotate(-90)" font-size="13" text-anchor="middle" fill="#1c1c1c" stroke="#1c1c1c" stroke-width="0.28">PVDR</text>
<text transform="translate(19.1,566.1) rotate(-90)" font-size="13" text-anchor="middle" fill="#1c1c1c" stroke="#1c1c1c" stroke-width="0.28">PVDR</text>
<text transform="translate(669.2,280) rotate(-90)" font-size="11" fill="#1d9e2c" stroke="#1d9e2c" stroke-width="0.2" textLength="163.8" lengthAdjust="spacingAndGlyphs">rel. prescribed tumor dose</text>
<text transform="translate(782.6,663.1) rotate(-90)" font-size="11" fill="#1d9e2c" stroke="#1d9e2c" stroke-width="0.2" textLength="165" lengthAdjust="spacingAndGlyphs">rel. prescribed tumor dose</text>
</svg>
</body></html>
